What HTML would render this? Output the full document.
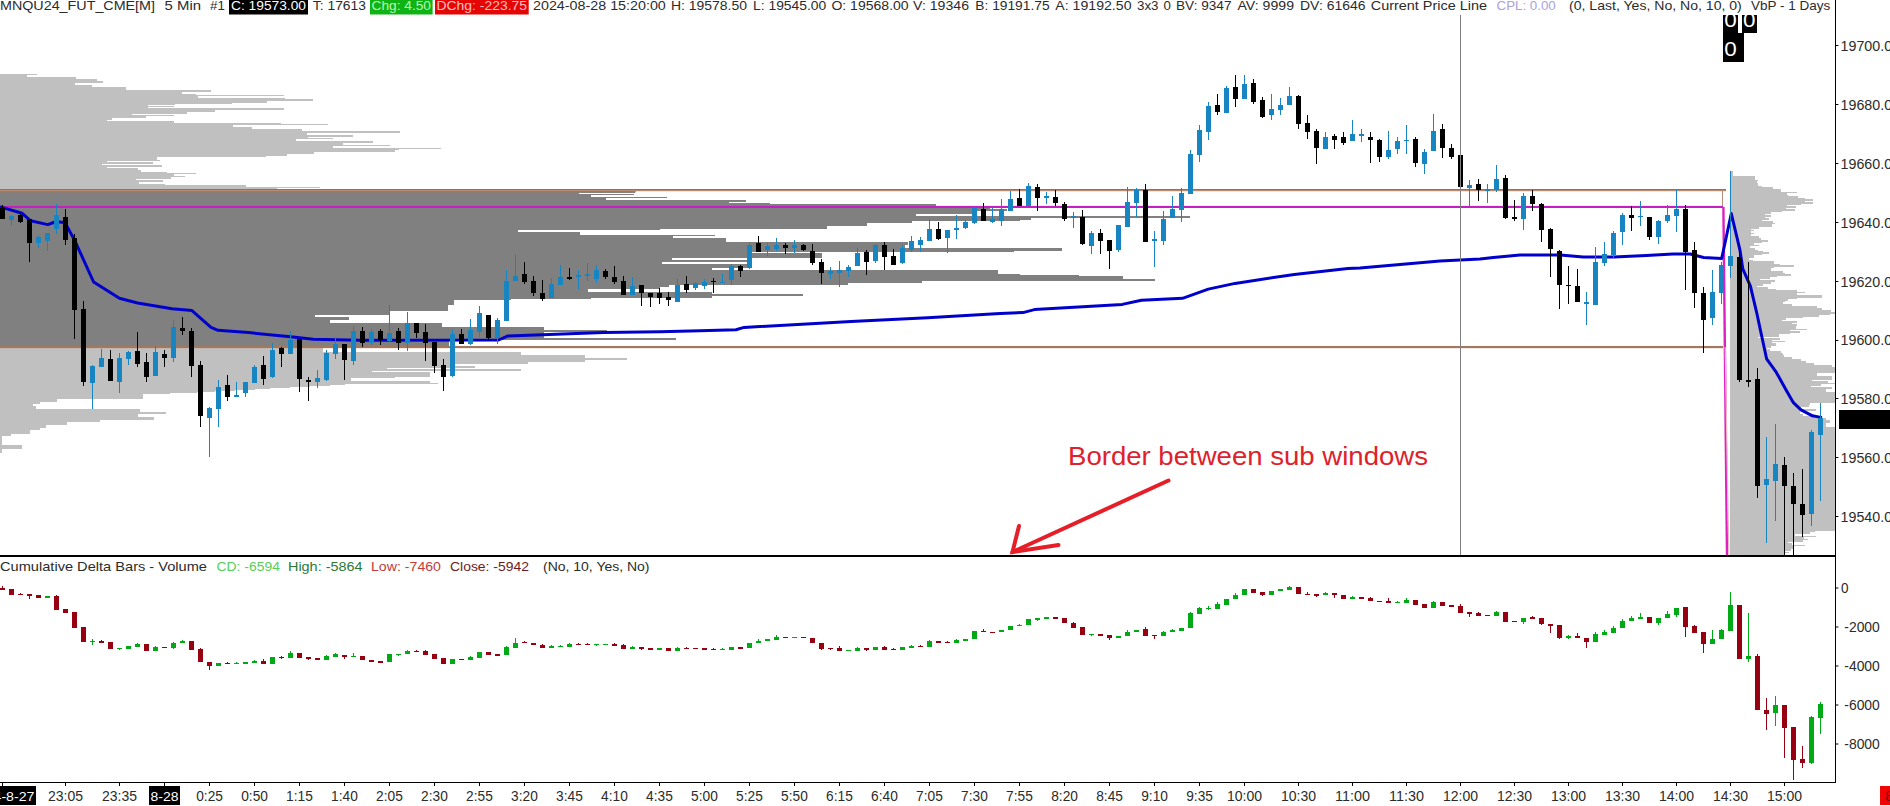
<!DOCTYPE html>
<html><head><meta charset="utf-8"><title>chart</title>
<style>html,body{margin:0;padding:0;background:#fff;overflow:hidden}svg{display:block}text{font-family:"Liberation Sans",sans-serif;white-space:pre}</style>
</head><body>
<svg width="1890" height="806" viewBox="0 0 1890 806">
<rect width="1890" height="806" fill="#fff"/>
<g shape-rendering="crispEdges">
<rect x="0.00" y="74.00" width="37.00" height="1.00" fill="#c0c0c0"/>
<rect x="0.00" y="75.00" width="27.00" height="2.00" fill="#c0c0c0"/>
<rect x="0.00" y="77.00" width="76.00" height="2.00" fill="#c0c0c0"/>
<rect x="0.00" y="79.00" width="97.00" height="2.00" fill="#c0c0c0"/>
<rect x="0.00" y="81.00" width="103.00" height="2.00" fill="#c0c0c0"/>
<rect x="0.00" y="83.00" width="75.00" height="2.00" fill="#c0c0c0"/>
<rect x="0.00" y="85.00" width="92.00" height="2.00" fill="#c0c0c0"/>
<rect x="0.00" y="87.00" width="126.00" height="3.00" fill="#c0c0c0"/>
<rect x="0.00" y="90.00" width="211.00" height="2.00" fill="#c0c0c0"/>
<rect x="0.00" y="92.00" width="182.00" height="2.00" fill="#c0c0c0"/>
<rect x="0.00" y="94.00" width="196.00" height="1.00" fill="#c0c0c0"/>
<rect x="0.00" y="95.00" width="284.00" height="1.00" fill="#c0c0c0"/>
<rect x="0.00" y="96.00" width="198.00" height="2.00" fill="#c0c0c0"/>
<rect x="0.00" y="98.00" width="285.00" height="1.00" fill="#c0c0c0"/>
<rect x="0.00" y="99.00" width="313.00" height="2.00" fill="#c0c0c0"/>
<rect x="0.00" y="101.00" width="267.00" height="2.00" fill="#c0c0c0"/>
<rect x="0.00" y="103.00" width="232.00" height="1.00" fill="#c0c0c0"/>
<rect x="0.00" y="104.00" width="175.00" height="1.00" fill="#c0c0c0"/>
<rect x="0.00" y="105.00" width="148.00" height="1.00" fill="#c0c0c0"/>
<rect x="0.00" y="106.00" width="174.00" height="1.00" fill="#c0c0c0"/>
<rect x="0.00" y="107.00" width="148.00" height="1.00" fill="#c0c0c0"/>
<rect x="0.00" y="108.00" width="284.00" height="2.00" fill="#c0c0c0"/>
<rect x="0.00" y="110.00" width="215.00" height="2.00" fill="#c0c0c0"/>
<rect x="0.00" y="112.00" width="187.00" height="2.00" fill="#c0c0c0"/>
<rect x="0.00" y="114.00" width="132.00" height="1.00" fill="#c0c0c0"/>
<rect x="0.00" y="115.00" width="174.00" height="1.00" fill="#c0c0c0"/>
<rect x="0.00" y="116.00" width="146.00" height="2.00" fill="#c0c0c0"/>
<rect x="0.00" y="118.00" width="112.00" height="2.00" fill="#c0c0c0"/>
<rect x="0.00" y="120.00" width="107.00" height="1.00" fill="#c0c0c0"/>
<rect x="0.00" y="121.00" width="174.00" height="2.00" fill="#c0c0c0"/>
<rect x="0.00" y="123.00" width="281.00" height="1.00" fill="#c0c0c0"/>
<rect x="0.00" y="124.00" width="328.00" height="1.00" fill="#c0c0c0"/>
<rect x="0.00" y="125.00" width="233.00" height="2.00" fill="#c0c0c0"/>
<rect x="0.00" y="127.00" width="252.00" height="2.00" fill="#c0c0c0"/>
<rect x="0.00" y="129.00" width="302.00" height="2.00" fill="#c0c0c0"/>
<rect x="0.00" y="131.00" width="400.00" height="2.00" fill="#c0c0c0"/>
<rect x="0.00" y="133.00" width="307.00" height="2.00" fill="#c0c0c0"/>
<rect x="0.00" y="135.00" width="353.00" height="2.00" fill="#c0c0c0"/>
<rect x="0.00" y="137.00" width="308.00" height="1.00" fill="#c0c0c0"/>
<rect x="0.00" y="138.00" width="333.00" height="1.00" fill="#c0c0c0"/>
<rect x="0.00" y="139.00" width="296.00" height="2.00" fill="#c0c0c0"/>
<rect x="0.00" y="141.00" width="373.00" height="2.00" fill="#c0c0c0"/>
<rect x="0.00" y="143.00" width="343.00" height="2.00" fill="#c0c0c0"/>
<rect x="0.00" y="145.00" width="390.00" height="1.00" fill="#c0c0c0"/>
<rect x="0.00" y="146.00" width="333.00" height="2.00" fill="#c0c0c0"/>
<rect x="0.00" y="148.00" width="441.00" height="1.00" fill="#c0c0c0"/>
<rect x="0.00" y="149.00" width="399.00" height="1.00" fill="#c0c0c0"/>
<rect x="0.00" y="150.00" width="395.00" height="2.00" fill="#c0c0c0"/>
<rect x="0.00" y="152.00" width="314.00" height="2.00" fill="#c0c0c0"/>
<rect x="0.00" y="154.00" width="287.00" height="2.00" fill="#c0c0c0"/>
<rect x="0.00" y="156.00" width="266.00" height="1.00" fill="#c0c0c0"/>
<rect x="0.00" y="157.00" width="157.00" height="3.00" fill="#c0c0c0"/>
<rect x="0.00" y="160.00" width="160.00" height="1.00" fill="#c0c0c0"/>
<rect x="0.00" y="161.00" width="107.00" height="1.00" fill="#c0c0c0"/>
<rect x="0.00" y="162.00" width="153.00" height="2.00" fill="#c0c0c0"/>
<rect x="0.00" y="164.00" width="102.00" height="1.00" fill="#c0c0c0"/>
<rect x="0.00" y="165.00" width="162.00" height="2.00" fill="#c0c0c0"/>
<rect x="0.00" y="167.00" width="107.00" height="1.00" fill="#c0c0c0"/>
<rect x="0.00" y="168.00" width="138.00" height="2.00" fill="#c0c0c0"/>
<rect x="0.00" y="170.00" width="141.00" height="2.00" fill="#c0c0c0"/>
<rect x="0.00" y="172.00" width="167.00" height="1.00" fill="#c0c0c0"/>
<rect x="0.00" y="173.00" width="196.00" height="1.00" fill="#c0c0c0"/>
<rect x="0.00" y="174.00" width="174.00" height="2.00" fill="#c0c0c0"/>
<rect x="0.00" y="176.00" width="185.00" height="1.00" fill="#c0c0c0"/>
<rect x="0.00" y="177.00" width="171.00" height="2.00" fill="#c0c0c0"/>
<rect x="0.00" y="179.00" width="136.00" height="1.00" fill="#c0c0c0"/>
<rect x="0.00" y="180.00" width="163.00" height="2.00" fill="#c0c0c0"/>
<rect x="0.00" y="182.00" width="139.00" height="2.00" fill="#c0c0c0"/>
<rect x="0.00" y="184.00" width="165.00" height="1.00" fill="#c0c0c0"/>
<rect x="0.00" y="185.00" width="246.00" height="2.00" fill="#c0c0c0"/>
<rect x="0.00" y="187.00" width="320.00" height="1.00" fill="#c0c0c0"/>
<rect x="0.00" y="188.00" width="277.00" height="1.00" fill="#c0c0c0"/>
<rect x="0.00" y="189.00" width="348.00" height="2.00" fill="#808080"/>
<rect x="0.00" y="191.00" width="635.00" height="2.00" fill="#808080"/>
<rect x="0.00" y="193.00" width="579.00" height="1.00" fill="#808080"/>
<rect x="0.00" y="194.00" width="634.00" height="1.00" fill="#808080"/>
<rect x="0.00" y="195.00" width="591.00" height="2.00" fill="#808080"/>
<rect x="0.00" y="197.00" width="667.00" height="1.00" fill="#808080"/>
<rect x="0.00" y="198.00" width="606.00" height="2.00" fill="#808080"/>
<rect x="0.00" y="200.00" width="746.00" height="2.00" fill="#808080"/>
<rect x="0.00" y="202.00" width="729.00" height="1.00" fill="#808080"/>
<rect x="0.00" y="203.00" width="770.00" height="1.00" fill="#808080"/>
<rect x="0.00" y="204.00" width="936.00" height="2.00" fill="#808080"/>
<rect x="0.00" y="206.00" width="990.00" height="3.00" fill="#808080"/>
<rect x="0.00" y="209.00" width="1007.00" height="2.00" fill="#808080"/>
<rect x="0.00" y="211.00" width="975.00" height="3.00" fill="#808080"/>
<rect x="0.00" y="214.00" width="916.00" height="2.00" fill="#808080"/>
<rect x="0.00" y="216.00" width="1190.00" height="2.00" fill="#808080"/>
<rect x="0.00" y="218.00" width="1031.00" height="2.00" fill="#808080"/>
<rect x="0.00" y="220.00" width="1020.00" height="1.00" fill="#808080"/>
<rect x="0.00" y="221.00" width="912.00" height="2.00" fill="#808080"/>
<rect x="0.00" y="223.00" width="867.00" height="3.00" fill="#808080"/>
<rect x="0.00" y="226.00" width="827.00" height="3.00" fill="#808080"/>
<rect x="0.00" y="229.00" width="660.00" height="1.00" fill="#808080"/>
<rect x="0.00" y="230.00" width="518.00" height="2.00" fill="#808080"/>
<rect x="0.00" y="232.00" width="580.00" height="3.00" fill="#808080"/>
<rect x="0.00" y="235.00" width="715.00" height="1.00" fill="#808080"/>
<rect x="0.00" y="236.00" width="673.00" height="2.00" fill="#808080"/>
<rect x="0.00" y="238.00" width="726.00" height="3.00" fill="#808080"/>
<rect x="0.00" y="241.00" width="726.00" height="1.00" fill="#808080"/>
<rect x="0.00" y="242.00" width="908.00" height="3.00" fill="#808080"/>
<rect x="0.00" y="245.00" width="905.00" height="3.00" fill="#808080"/>
<rect x="0.00" y="248.00" width="1062.00" height="3.00" fill="#808080"/>
<rect x="0.00" y="251.00" width="1014.00" height="1.00" fill="#808080"/>
<rect x="0.00" y="252.00" width="752.00" height="1.00" fill="#808080"/>
<rect x="0.00" y="253.00" width="822.00" height="5.00" fill="#808080"/>
<rect x="0.00" y="258.00" width="672.00" height="2.00" fill="#808080"/>
<rect x="0.00" y="260.00" width="748.00" height="2.00" fill="#808080"/>
<rect x="0.00" y="262.00" width="662.00" height="2.00" fill="#808080"/>
<rect x="0.00" y="264.00" width="748.00" height="4.00" fill="#808080"/>
<rect x="0.00" y="268.00" width="712.00" height="2.00" fill="#808080"/>
<rect x="0.00" y="270.00" width="998.00" height="4.00" fill="#808080"/>
<rect x="0.00" y="274.00" width="1020.00" height="1.00" fill="#808080"/>
<rect x="0.00" y="275.00" width="1079.00" height="1.00" fill="#808080"/>
<rect x="0.00" y="276.00" width="1123.00" height="3.00" fill="#808080"/>
<rect x="0.00" y="279.00" width="1155.00" height="2.00" fill="#808080"/>
<rect x="0.00" y="281.00" width="922.00" height="2.00" fill="#808080"/>
<rect x="0.00" y="283.00" width="848.00" height="2.00" fill="#808080"/>
<rect x="0.00" y="285.00" width="669.00" height="2.00" fill="#808080"/>
<rect x="0.00" y="287.00" width="660.00" height="2.00" fill="#808080"/>
<rect x="0.00" y="289.00" width="588.00" height="3.00" fill="#808080"/>
<rect x="0.00" y="292.00" width="712.00" height="2.00" fill="#808080"/>
<rect x="0.00" y="294.00" width="803.00" height="2.00" fill="#808080"/>
<rect x="0.00" y="296.00" width="712.00" height="2.00" fill="#808080"/>
<rect x="0.00" y="298.00" width="591.00" height="1.00" fill="#808080"/>
<rect x="0.00" y="299.00" width="511.00" height="1.00" fill="#808080"/>
<rect x="0.00" y="300.00" width="454.00" height="5.00" fill="#808080"/>
<rect x="0.00" y="305.00" width="448.00" height="6.00" fill="#808080"/>
<rect x="0.00" y="311.00" width="390.00" height="4.00" fill="#808080"/>
<rect x="0.00" y="315.00" width="315.00" height="2.00" fill="#808080"/>
<rect x="0.00" y="317.00" width="349.00" height="3.00" fill="#808080"/>
<rect x="0.00" y="320.00" width="330.00" height="3.00" fill="#808080"/>
<rect x="0.00" y="323.00" width="442.00" height="4.00" fill="#808080"/>
<rect x="0.00" y="327.00" width="544.00" height="3.00" fill="#808080"/>
<rect x="0.00" y="330.00" width="607.00" height="2.00" fill="#808080"/>
<rect x="0.00" y="332.00" width="544.00" height="6.00" fill="#808080"/>
<rect x="0.00" y="338.00" width="676.00" height="2.00" fill="#808080"/>
<rect x="0.00" y="340.00" width="449.00" height="6.00" fill="#808080"/>
<rect x="0.00" y="346.00" width="360.00" height="2.00" fill="#c0c0c0"/>
<rect x="0.00" y="348.00" width="323.00" height="4.00" fill="#c0c0c0"/>
<rect x="0.00" y="352.00" width="521.00" height="3.00" fill="#c0c0c0"/>
<rect x="0.00" y="355.00" width="585.00" height="3.00" fill="#c0c0c0"/>
<rect x="0.00" y="358.00" width="627.00" height="2.00" fill="#c0c0c0"/>
<rect x="0.00" y="360.00" width="585.00" height="2.00" fill="#c0c0c0"/>
<rect x="0.00" y="362.00" width="528.00" height="2.00" fill="#c0c0c0"/>
<rect x="0.00" y="364.00" width="455.00" height="2.00" fill="#c0c0c0"/>
<rect x="0.00" y="366.00" width="475.00" height="2.00" fill="#c0c0c0"/>
<rect x="0.00" y="368.00" width="387.00" height="1.00" fill="#c0c0c0"/>
<rect x="0.00" y="369.00" width="521.00" height="2.00" fill="#c0c0c0"/>
<rect x="0.00" y="371.00" width="372.00" height="1.00" fill="#c0c0c0"/>
<rect x="0.00" y="372.00" width="430.00" height="5.00" fill="#c0c0c0"/>
<rect x="0.00" y="377.00" width="395.00" height="1.00" fill="#c0c0c0"/>
<rect x="0.00" y="378.00" width="351.00" height="3.00" fill="#c0c0c0"/>
<rect x="0.00" y="381.00" width="430.00" height="2.00" fill="#c0c0c0"/>
<rect x="0.00" y="383.00" width="438.00" height="1.00" fill="#c0c0c0"/>
<rect x="0.00" y="384.00" width="345.00" height="1.00" fill="#c0c0c0"/>
<rect x="0.00" y="385.00" width="330.00" height="1.00" fill="#c0c0c0"/>
<rect x="0.00" y="386.00" width="310.00" height="1.00" fill="#c0c0c0"/>
<rect x="0.00" y="387.00" width="290.00" height="1.00" fill="#c0c0c0"/>
<rect x="0.00" y="388.00" width="270.00" height="1.00" fill="#c0c0c0"/>
<rect x="0.00" y="389.00" width="255.00" height="1.00" fill="#c0c0c0"/>
<rect x="0.00" y="390.00" width="235.00" height="1.00" fill="#c0c0c0"/>
<rect x="0.00" y="391.00" width="215.00" height="1.00" fill="#c0c0c0"/>
<rect x="0.00" y="392.00" width="197.00" height="1.00" fill="#c0c0c0"/>
<rect x="0.00" y="393.00" width="170.00" height="1.00" fill="#c0c0c0"/>
<rect x="0.00" y="394.00" width="143.00" height="5.00" fill="#c0c0c0"/>
<rect x="0.00" y="399.00" width="57.00" height="3.00" fill="#c0c0c0"/>
<rect x="0.00" y="402.00" width="40.00" height="2.00" fill="#c0c0c0"/>
<rect x="0.00" y="404.00" width="33.00" height="2.00" fill="#c0c0c0"/>
<rect x="0.00" y="406.00" width="36.00" height="3.00" fill="#c0c0c0"/>
<rect x="0.00" y="409.00" width="139.50" height="3.00" fill="#c0c0c0"/>
<rect x="0.00" y="412.00" width="166.00" height="2.00" fill="#c0c0c0"/>
<rect x="0.00" y="414.00" width="137.60" height="3.00" fill="#c0c0c0"/>
<rect x="0.00" y="417.00" width="153.80" height="3.00" fill="#c0c0c0"/>
<rect x="0.00" y="420.00" width="100.00" height="2.00" fill="#c0c0c0"/>
<rect x="0.00" y="422.00" width="67.00" height="3.00" fill="#c0c0c0"/>
<rect x="0.00" y="425.00" width="46.00" height="3.00" fill="#c0c0c0"/>
<rect x="0.00" y="428.00" width="40.00" height="2.00" fill="#c0c0c0"/>
<rect x="0.00" y="430.00" width="30.00" height="4.00" fill="#c0c0c0"/>
<rect x="0.00" y="434.00" width="11.00" height="2.00" fill="#c0c0c0"/>
<rect x="0.00" y="436.00" width="2.00" height="9.00" fill="#c0c0c0"/>
<rect x="0.00" y="445.00" width="22.00" height="4.00" fill="#c0c0c0"/>
<rect x="0.00" y="449.00" width="2.00" height="4.00" fill="#c0c0c0"/>
<rect x="1730.00" y="171.00" width="3.00" height="5.00" fill="#c0c0c0"/>
<rect x="1730.00" y="176.00" width="24.80" height="4.00" fill="#c0c0c0"/>
<rect x="1730.00" y="180.00" width="27.80" height="1.00" fill="#c0c0c0"/>
<rect x="1730.00" y="181.00" width="26.60" height="2.00" fill="#c0c0c0"/>
<rect x="1730.00" y="183.00" width="28.40" height="3.00" fill="#c0c0c0"/>
<rect x="1730.00" y="186.00" width="31.50" height="1.00" fill="#c0c0c0"/>
<rect x="1730.00" y="187.00" width="43.00" height="2.00" fill="#c0c0c0"/>
<rect x="1730.00" y="189.00" width="50.90" height="3.00" fill="#c0c0c0"/>
<rect x="1730.00" y="192.00" width="66.70" height="1.00" fill="#c0c0c0"/>
<rect x="1730.00" y="193.00" width="57.00" height="2.00" fill="#c0c0c0"/>
<rect x="1730.00" y="195.00" width="58.20" height="1.00" fill="#c0c0c0"/>
<rect x="1730.00" y="196.00" width="67.90" height="2.00" fill="#c0c0c0"/>
<rect x="1730.00" y="198.00" width="75.20" height="1.00" fill="#c0c0c0"/>
<rect x="1730.00" y="199.00" width="82.80" height="2.00" fill="#c0c0c0"/>
<rect x="1730.00" y="201.00" width="75.00" height="1.00" fill="#c0c0c0"/>
<rect x="1730.00" y="202.00" width="82.80" height="2.00" fill="#c0c0c0"/>
<rect x="1730.00" y="204.00" width="71.00" height="1.00" fill="#c0c0c0"/>
<rect x="1730.00" y="205.00" width="57.00" height="1.00" fill="#c0c0c0"/>
<rect x="1730.00" y="206.00" width="65.90" height="2.00" fill="#c0c0c0"/>
<rect x="1730.00" y="208.00" width="55.80" height="1.00" fill="#c0c0c0"/>
<rect x="1730.00" y="209.00" width="64.90" height="2.00" fill="#c0c0c0"/>
<rect x="1730.00" y="211.00" width="52.00" height="1.00" fill="#c0c0c0"/>
<rect x="1730.00" y="212.00" width="40.60" height="2.00" fill="#c0c0c0"/>
<rect x="1730.00" y="214.00" width="35.00" height="1.00" fill="#c0c0c0"/>
<rect x="1730.00" y="215.00" width="40.60" height="2.00" fill="#c0c0c0"/>
<rect x="1730.00" y="217.00" width="34.50" height="1.00" fill="#c0c0c0"/>
<rect x="1730.00" y="218.00" width="38.80" height="2.00" fill="#c0c0c0"/>
<rect x="1730.00" y="220.00" width="31.50" height="1.00" fill="#c0c0c0"/>
<rect x="1730.00" y="221.00" width="42.80" height="2.00" fill="#c0c0c0"/>
<rect x="1730.00" y="223.00" width="45.40" height="1.00" fill="#c0c0c0"/>
<rect x="1730.00" y="224.00" width="41.80" height="3.00" fill="#c0c0c0"/>
<rect x="1730.00" y="227.00" width="29.00" height="2.00" fill="#c0c0c0"/>
<rect x="1730.00" y="229.00" width="20.50" height="1.00" fill="#c0c0c0"/>
<rect x="1730.00" y="230.00" width="24.20" height="1.00" fill="#c0c0c0"/>
<rect x="1730.00" y="231.00" width="21.00" height="2.00" fill="#c0c0c0"/>
<rect x="1730.00" y="233.00" width="24.00" height="1.00" fill="#c0c0c0"/>
<rect x="1730.00" y="234.00" width="20.50" height="2.00" fill="#c0c0c0"/>
<rect x="1730.00" y="236.00" width="29.00" height="2.00" fill="#c0c0c0"/>
<rect x="1730.00" y="238.00" width="30.90" height="2.00" fill="#c0c0c0"/>
<rect x="1730.00" y="240.00" width="37.80" height="2.00" fill="#c0c0c0"/>
<rect x="1730.00" y="242.00" width="31.50" height="1.00" fill="#c0c0c0"/>
<rect x="1730.00" y="243.00" width="23.60" height="2.00" fill="#c0c0c0"/>
<rect x="1730.00" y="245.00" width="29.00" height="1.00" fill="#c0c0c0"/>
<rect x="1730.00" y="246.00" width="20.00" height="2.00" fill="#c0c0c0"/>
<rect x="1730.00" y="248.00" width="24.80" height="2.00" fill="#c0c0c0"/>
<rect x="1730.00" y="250.00" width="28.40" height="1.00" fill="#c0c0c0"/>
<rect x="1730.00" y="251.00" width="32.70" height="1.00" fill="#c0c0c0"/>
<rect x="1730.00" y="252.00" width="38.80" height="2.00" fill="#c0c0c0"/>
<rect x="1730.00" y="254.00" width="31.50" height="1.00" fill="#c0c0c0"/>
<rect x="1730.00" y="255.00" width="23.60" height="3.00" fill="#c0c0c0"/>
<rect x="1730.00" y="258.00" width="19.30" height="2.00" fill="#c0c0c0"/>
<rect x="1730.00" y="260.00" width="23.00" height="1.00" fill="#c0c0c0"/>
<rect x="1730.00" y="261.00" width="43.60" height="3.00" fill="#c0c0c0"/>
<rect x="1730.00" y="264.00" width="49.70" height="1.00" fill="#c0c0c0"/>
<rect x="1730.00" y="265.00" width="63.70" height="2.00" fill="#c0c0c0"/>
<rect x="1730.00" y="267.00" width="43.60" height="1.00" fill="#c0c0c0"/>
<rect x="1730.00" y="268.00" width="40.60" height="3.00" fill="#c0c0c0"/>
<rect x="1730.00" y="271.00" width="53.40" height="2.00" fill="#c0c0c0"/>
<rect x="1730.00" y="273.00" width="55.20" height="1.00" fill="#c0c0c0"/>
<rect x="1730.00" y="274.00" width="60.60" height="2.00" fill="#c0c0c0"/>
<rect x="1730.00" y="276.00" width="47.30" height="1.00" fill="#c0c0c0"/>
<rect x="1730.00" y="277.00" width="40.00" height="2.00" fill="#c0c0c0"/>
<rect x="1730.00" y="279.00" width="30.30" height="1.00" fill="#c0c0c0"/>
<rect x="1730.00" y="280.00" width="44.80" height="2.00" fill="#c0c0c0"/>
<rect x="1730.00" y="282.00" width="40.60" height="2.00" fill="#c0c0c0"/>
<rect x="1730.00" y="284.00" width="32.70" height="2.00" fill="#c0c0c0"/>
<rect x="1730.00" y="286.00" width="26.60" height="1.00" fill="#c0c0c0"/>
<rect x="1730.00" y="287.00" width="37.50" height="2.00" fill="#c0c0c0"/>
<rect x="1730.00" y="289.00" width="46.00" height="1.00" fill="#c0c0c0"/>
<rect x="1730.00" y="290.00" width="66.70" height="2.00" fill="#c0c0c0"/>
<rect x="1730.00" y="292.00" width="75.20" height="1.00" fill="#c0c0c0"/>
<rect x="1730.00" y="293.00" width="66.70" height="2.00" fill="#c0c0c0"/>
<rect x="1730.00" y="295.00" width="91.60" height="3.00" fill="#c0c0c0"/>
<rect x="1730.00" y="298.00" width="66.70" height="1.00" fill="#c0c0c0"/>
<rect x="1730.00" y="299.00" width="58.20" height="2.00" fill="#c0c0c0"/>
<rect x="1730.00" y="301.00" width="55.20" height="1.00" fill="#c0c0c0"/>
<rect x="1730.00" y="302.00" width="52.70" height="2.00" fill="#c0c0c0"/>
<rect x="1730.00" y="304.00" width="61.90" height="2.00" fill="#c0c0c0"/>
<rect x="1730.00" y="306.00" width="86.80" height="2.00" fill="#c0c0c0"/>
<rect x="1730.00" y="308.00" width="92.30" height="2.00" fill="#c0c0c0"/>
<rect x="1730.00" y="310.00" width="100.80" height="2.00" fill="#c0c0c0"/>
<rect x="1730.00" y="312.00" width="104.60" height="2.00" fill="#c0c0c0"/>
<rect x="1730.00" y="314.00" width="99.50" height="1.00" fill="#c0c0c0"/>
<rect x="1730.00" y="315.00" width="88.60" height="2.00" fill="#c0c0c0"/>
<rect x="1730.00" y="317.00" width="72.80" height="1.00" fill="#c0c0c0"/>
<rect x="1730.00" y="318.00" width="55.80" height="2.00" fill="#c0c0c0"/>
<rect x="1730.00" y="320.00" width="52.00" height="1.00" fill="#c0c0c0"/>
<rect x="1730.00" y="321.00" width="66.70" height="2.00" fill="#c0c0c0"/>
<rect x="1730.00" y="323.00" width="61.90" height="1.00" fill="#c0c0c0"/>
<rect x="1730.00" y="324.00" width="66.70" height="2.00" fill="#c0c0c0"/>
<rect x="1730.00" y="326.00" width="65.50" height="2.00" fill="#c0c0c0"/>
<rect x="1730.00" y="328.00" width="66.00" height="1.00" fill="#c0c0c0"/>
<rect x="1730.00" y="329.00" width="76.70" height="1.00" fill="#c0c0c0"/>
<rect x="1730.00" y="330.00" width="60.00" height="1.00" fill="#c0c0c0"/>
<rect x="1730.00" y="331.00" width="69.80" height="2.00" fill="#c0c0c0"/>
<rect x="1730.00" y="333.00" width="60.00" height="1.00" fill="#c0c0c0"/>
<rect x="1730.00" y="334.00" width="48.50" height="3.00" fill="#c0c0c0"/>
<rect x="1730.00" y="337.00" width="27.80" height="1.00" fill="#c0c0c0"/>
<rect x="1730.00" y="338.00" width="49.70" height="2.00" fill="#c0c0c0"/>
<rect x="1730.00" y="340.00" width="41.80" height="1.00" fill="#c0c0c0"/>
<rect x="1730.00" y="341.00" width="55.00" height="1.00" fill="#c0c0c0"/>
<rect x="1730.00" y="342.00" width="41.80" height="1.00" fill="#c0c0c0"/>
<rect x="1730.00" y="343.00" width="45.50" height="3.00" fill="#c0c0c0"/>
<rect x="1730.00" y="346.00" width="41.20" height="2.00" fill="#c0c0c0"/>
<rect x="1730.00" y="348.00" width="37.00" height="1.00" fill="#c0c0c0"/>
<rect x="1730.00" y="349.00" width="40.00" height="2.00" fill="#c0c0c0"/>
<rect x="1730.00" y="351.00" width="51.00" height="2.00" fill="#c0c0c0"/>
<rect x="1730.00" y="353.00" width="52.70" height="2.00" fill="#c0c0c0"/>
<rect x="1730.00" y="355.00" width="54.00" height="2.00" fill="#c0c0c0"/>
<rect x="1730.00" y="357.00" width="61.50" height="2.00" fill="#c0c0c0"/>
<rect x="1730.00" y="359.00" width="71.00" height="2.00" fill="#c0c0c0"/>
<rect x="1730.00" y="361.00" width="75.80" height="2.00" fill="#c0c0c0"/>
<rect x="1730.00" y="363.00" width="84.40" height="2.00" fill="#c0c0c0"/>
<rect x="1730.00" y="365.00" width="102.00" height="2.00" fill="#c0c0c0"/>
<rect x="1730.00" y="367.00" width="105.00" height="6.00" fill="#c0c0c0"/>
<rect x="1730.00" y="373.00" width="86.80" height="3.00" fill="#c0c0c0"/>
<rect x="1730.00" y="376.00" width="102.00" height="4.00" fill="#c0c0c0"/>
<rect x="1730.00" y="380.00" width="82.00" height="1.00" fill="#c0c0c0"/>
<rect x="1730.00" y="381.00" width="98.00" height="2.00" fill="#c0c0c0"/>
<rect x="1730.00" y="383.00" width="105.00" height="1.00" fill="#c0c0c0"/>
<rect x="1730.00" y="384.00" width="91.00" height="2.00" fill="#c0c0c0"/>
<rect x="1730.00" y="386.00" width="80.70" height="1.00" fill="#c0c0c0"/>
<rect x="1730.00" y="387.00" width="102.00" height="2.00" fill="#c0c0c0"/>
<rect x="1730.00" y="389.00" width="96.00" height="3.00" fill="#c0c0c0"/>
<rect x="1730.00" y="392.00" width="105.00" height="11.00" fill="#c0c0c0"/>
<rect x="1730.00" y="403.00" width="80.00" height="2.00" fill="#c0c0c0"/>
<rect x="1730.00" y="405.00" width="79.00" height="2.00" fill="#c0c0c0"/>
<rect x="1730.00" y="407.00" width="71.00" height="2.00" fill="#c0c0c0"/>
<rect x="1730.00" y="409.00" width="85.80" height="2.00" fill="#c0c0c0"/>
<rect x="1730.00" y="411.00" width="70.00" height="3.00" fill="#c0c0c0"/>
<rect x="1730.00" y="414.00" width="73.00" height="2.00" fill="#c0c0c0"/>
<rect x="1730.00" y="416.00" width="92.00" height="2.00" fill="#c0c0c0"/>
<rect x="1730.00" y="418.00" width="95.50" height="2.00" fill="#c0c0c0"/>
<rect x="1730.00" y="420.00" width="100.00" height="3.00" fill="#c0c0c0"/>
<rect x="1730.00" y="423.00" width="96.00" height="4.00" fill="#c0c0c0"/>
<rect x="1730.00" y="427.00" width="105.00" height="104.00" fill="#c0c0c0"/>
<rect x="1730.00" y="531.00" width="85.00" height="1.00" fill="#c0c0c0"/>
<rect x="1730.00" y="532.00" width="80.00" height="2.00" fill="#c0c0c0"/>
<rect x="1730.00" y="534.00" width="65.00" height="2.00" fill="#c0c0c0"/>
<rect x="1730.00" y="536.00" width="85.90" height="1.00" fill="#c0c0c0"/>
<rect x="1730.00" y="537.00" width="73.80" height="2.00" fill="#c0c0c0"/>
<rect x="1730.00" y="539.00" width="77.80" height="1.00" fill="#c0c0c0"/>
<rect x="1730.00" y="540.00" width="72.90" height="2.00" fill="#c0c0c0"/>
<rect x="1730.00" y="542.00" width="58.00" height="1.00" fill="#c0c0c0"/>
<rect x="1730.00" y="543.00" width="62.00" height="2.00" fill="#c0c0c0"/>
<rect x="1730.00" y="545.00" width="75.00" height="1.00" fill="#c0c0c0"/>
<rect x="1730.00" y="546.00" width="62.60" height="3.00" fill="#c0c0c0"/>
<rect x="1730.00" y="549.00" width="60.80" height="2.00" fill="#c0c0c0"/>
<rect x="1730.00" y="551.00" width="55.00" height="1.00" fill="#c0c0c0"/>
<rect x="1730.00" y="552.00" width="59.00" height="1.00" fill="#c0c0c0"/>
<rect x="1730.00" y="553.00" width="55.20" height="2.00" fill="#c0c0c0"/>
</g>
<rect x="0.00" y="189.00" width="1726.00" height="1.00" fill="#84746c"/>
<rect x="0.00" y="190.00" width="1726.00" height="1.00" fill="#b88c72"/>
<rect x="0.00" y="191.00" width="636.00" height="1.40" fill="#a87860" opacity="0.75"/>
<rect x="636.00" y="191.00" width="1090.00" height="1.00" fill="#c89878" opacity="0.25"/>
<rect x="0.00" y="346.00" width="1723.00" height="2.00" fill="#a4775f"/>
<rect x="0.00" y="348.00" width="1723.00" height="1.00" fill="#c89878" opacity="0.2"/>
<rect x="1722.00" y="190.00" width="1.00" height="17.00" fill="#b89078"/>
<rect x="0.00" y="205.90" width="1723.00" height="2.10" fill="#c41fc0"/>
<path d="M1723.4 207 L1727 555" stroke="#dc20c0" stroke-width="2.4" fill="none"/>
<path d="M1725.2 347 L1728.8 555" stroke="#f4b8c8" stroke-width="1.2" fill="none"/>
<polyline points="0.0,207.0 2.0,207.4 22.0,213.2 30.6,220.8 47.8,224.6 56.4,221.5 65.0,222.7 74.5,239.9 93.6,282.0 119.4,298.2 137.6,303.0 172.0,308.7 192.0,310.6 211.0,327.4 218.0,330.3 248.4,332.6 290.5,336.8 313.4,339.3 360.0,340.2 498.6,340.0 508.0,335.9 603.7,332.5 660.0,331.8 700.0,330.8 736.0,329.7 744.0,327.4 851.0,321.6 927.5,317.8 1000.0,313.5 1023.0,312.6 1034.4,309.6 1122.3,304.4 1141.4,300.2 1182.5,298.3 1208.3,289.1 1235.0,283.4 1294.3,274.4 1347.8,268.5 1360.0,268.1 1400.0,264.5 1440.0,261.0 1480.0,259.0 1493.4,257.5 1520.0,255.0 1560.3,255.0 1583.2,257.0 1613.8,257.0 1646.3,255.5 1673.0,254.0 1690.2,254.0 1703.6,257.5 1721.7,258.4 1731.3,213.5 1739.9,249.8 1742.8,268.9 1750.4,286.1 1757.0,314.0 1760.0,328.2 1766.6,358.8 1776.2,372.2 1785.8,389.4 1793.4,402.7 1801.0,409.9 1812.5,415.8 1822.0,417.6" fill="none" stroke="#0000cc" stroke-width="3" stroke-linejoin="round"/>
<g shape-rendering="crispEdges">
<rect x="2.00" y="205.00" width="1.00" height="13.80" fill="#000"/>
<rect x="0.00" y="207.90" width="5.00" height="10.90" fill="#000"/>
<rect x="11.00" y="215.30" width="1.00" height="11.00" fill="#1785c1"/>
<rect x="9.00" y="216.30" width="5.00" height="4.00" fill="#1785c1"/>
<rect x="20.00" y="214.00" width="1.00" height="8.80" fill="#000"/>
<rect x="18.00" y="214.90" width="5.00" height="6.90" fill="#000"/>
<rect x="29.00" y="219.00" width="1.00" height="43.00" fill="#000"/>
<rect x="27.00" y="219.30" width="5.00" height="23.50" fill="#000"/>
<rect x="38.00" y="235.00" width="1.00" height="12.60" fill="#1785c1"/>
<rect x="36.00" y="236.70" width="5.00" height="5.90" fill="#1785c1"/>
<rect x="47.00" y="232.50" width="1.00" height="18.50" fill="#1785c1"/>
<rect x="45.00" y="233.20" width="5.00" height="7.70" fill="#1785c1"/>
<rect x="56.00" y="204.00" width="1.00" height="29.70" fill="#1785c1"/>
<rect x="54.00" y="214.90" width="5.00" height="14.30" fill="#1785c1"/>
<rect x="65.00" y="209.00" width="1.00" height="36.00" fill="#000"/>
<rect x="63.00" y="217.00" width="5.00" height="22.90" fill="#000"/>
<rect x="74.00" y="234.20" width="1.00" height="104.30" fill="#000"/>
<rect x="72.00" y="238.00" width="5.00" height="71.70" fill="#000"/>
<rect x="83.00" y="301.00" width="1.00" height="84.50" fill="#000"/>
<rect x="81.00" y="309.00" width="5.00" height="72.50" fill="#000"/>
<rect x="92.00" y="365.00" width="1.00" height="43.90" fill="#1785c1"/>
<rect x="90.00" y="365.90" width="5.00" height="16.60" fill="#1785c1"/>
<rect x="101.00" y="348.70" width="1.00" height="18.10" fill="#1785c1"/>
<rect x="99.00" y="358.20" width="5.00" height="8.60" fill="#1785c1"/>
<rect x="110.00" y="350.20" width="1.00" height="30.60" fill="#000"/>
<rect x="108.00" y="359.20" width="5.00" height="21.60" fill="#000"/>
<rect x="119.00" y="353.40" width="1.00" height="39.20" fill="#1785c1"/>
<rect x="117.00" y="358.20" width="5.00" height="23.30" fill="#1785c1"/>
<rect x="128.00" y="350.50" width="1.00" height="14.40" fill="#1785c1"/>
<rect x="126.00" y="352.10" width="5.00" height="6.70" fill="#1785c1"/>
<rect x="137.00" y="331.70" width="1.00" height="35.10" fill="#000"/>
<rect x="135.00" y="351.10" width="5.00" height="12.90" fill="#000"/>
<rect x="146.00" y="353.40" width="1.00" height="28.10" fill="#000"/>
<rect x="144.00" y="362.40" width="5.00" height="14.40" fill="#000"/>
<rect x="155.00" y="345.80" width="1.00" height="30.00" fill="#1785c1"/>
<rect x="153.00" y="352.10" width="5.00" height="23.70" fill="#1785c1"/>
<rect x="164.00" y="350.20" width="1.00" height="16.60" fill="#000"/>
<rect x="162.00" y="354.40" width="5.00" height="3.20" fill="#000"/>
<rect x="173.00" y="320.00" width="1.00" height="41.70" fill="#1785c1"/>
<rect x="171.00" y="327.10" width="5.00" height="30.50" fill="#1785c1"/>
<rect x="182.00" y="317.30" width="1.00" height="18.10" fill="#000"/>
<rect x="180.00" y="327.90" width="5.00" height="3.10" fill="#000"/>
<rect x="191.00" y="328.20" width="1.00" height="49.10" fill="#000"/>
<rect x="189.00" y="331.10" width="5.00" height="34.80" fill="#000"/>
<rect x="200.00" y="361.10" width="1.00" height="66.30" fill="#000"/>
<rect x="198.00" y="365.30" width="5.00" height="50.20" fill="#000"/>
<rect x="209.00" y="407.00" width="1.00" height="49.60" fill="#1785c1"/>
<rect x="207.00" y="408.30" width="5.00" height="9.20" fill="#1785c1"/>
<rect x="218.00" y="380.20" width="1.00" height="47.20" fill="#1785c1"/>
<rect x="216.00" y="387.30" width="5.00" height="22.10" fill="#1785c1"/>
<rect x="227.00" y="375.40" width="1.00" height="25.20" fill="#000"/>
<rect x="225.00" y="385.40" width="5.00" height="12.00" fill="#000"/>
<rect x="236.00" y="382.10" width="1.00" height="15.30" fill="#1785c1"/>
<rect x="234.00" y="394.50" width="5.00" height="2.90" fill="#1785c1"/>
<rect x="245.00" y="382.10" width="1.00" height="15.30" fill="#1785c1"/>
<rect x="243.00" y="382.10" width="5.00" height="10.50" fill="#1785c1"/>
<rect x="254.00" y="364.90" width="1.00" height="17.60" fill="#1785c1"/>
<rect x="252.00" y="366.80" width="5.00" height="15.70" fill="#1785c1"/>
<rect x="263.00" y="356.30" width="1.00" height="28.70" fill="#000"/>
<rect x="261.00" y="365.30" width="5.00" height="13.40" fill="#000"/>
<rect x="272.00" y="343.30" width="1.00" height="34.40" fill="#1785c1"/>
<rect x="270.00" y="350.00" width="5.00" height="26.80" fill="#1785c1"/>
<rect x="281.00" y="346.80" width="1.00" height="20.00" fill="#000"/>
<rect x="279.00" y="348.10" width="5.00" height="5.70" fill="#000"/>
<rect x="290.00" y="331.10" width="1.00" height="22.70" fill="#1785c1"/>
<rect x="288.00" y="340.10" width="5.00" height="13.70" fill="#1785c1"/>
<rect x="299.00" y="338.70" width="1.00" height="53.00" fill="#000"/>
<rect x="297.00" y="338.70" width="5.00" height="40.00" fill="#000"/>
<rect x="308.00" y="376.90" width="1.00" height="23.70" fill="#000"/>
<rect x="306.00" y="379.80" width="5.00" height="1.90" fill="#000"/>
<rect x="317.00" y="370.10" width="1.00" height="17.70" fill="#1785c1"/>
<rect x="315.00" y="378.30" width="5.00" height="3.40" fill="#1785c1"/>
<rect x="326.00" y="350.20" width="1.00" height="30.60" fill="#1785c1"/>
<rect x="324.00" y="352.90" width="5.00" height="26.90" fill="#1785c1"/>
<rect x="335.00" y="336.60" width="1.00" height="22.00" fill="#1785c1"/>
<rect x="333.00" y="343.90" width="5.00" height="9.90" fill="#1785c1"/>
<rect x="344.00" y="344.40" width="1.00" height="35.40" fill="#000"/>
<rect x="342.00" y="344.40" width="5.00" height="15.30" fill="#000"/>
<rect x="353.00" y="326.10" width="1.00" height="38.80" fill="#1785c1"/>
<rect x="351.00" y="330.60" width="5.00" height="30.20" fill="#1785c1"/>
<rect x="362.00" y="327.30" width="1.00" height="19.50" fill="#000"/>
<rect x="360.00" y="330.70" width="5.00" height="11.90" fill="#000"/>
<rect x="371.00" y="329.20" width="1.00" height="16.20" fill="#1785c1"/>
<rect x="369.00" y="332.00" width="5.00" height="10.60" fill="#1785c1"/>
<rect x="380.00" y="329.20" width="1.00" height="15.60" fill="#000"/>
<rect x="378.00" y="331.10" width="5.00" height="9.00" fill="#000"/>
<rect x="389.00" y="304.60" width="1.00" height="37.00" fill="#1785c1"/>
<rect x="387.00" y="333.00" width="5.00" height="7.60" fill="#1785c1"/>
<rect x="398.00" y="328.20" width="1.00" height="21.60" fill="#000"/>
<rect x="396.00" y="331.10" width="5.00" height="11.50" fill="#000"/>
<rect x="407.00" y="312.00" width="1.00" height="39.20" fill="#1785c1"/>
<rect x="405.00" y="323.40" width="5.00" height="19.20" fill="#1785c1"/>
<rect x="416.00" y="323.40" width="1.00" height="14.40" fill="#000"/>
<rect x="414.00" y="323.40" width="5.00" height="9.60" fill="#000"/>
<rect x="425.00" y="324.40" width="1.00" height="36.30" fill="#000"/>
<rect x="423.00" y="332.40" width="5.00" height="10.20" fill="#000"/>
<rect x="434.00" y="342.00" width="1.00" height="30.60" fill="#000"/>
<rect x="432.00" y="342.00" width="5.00" height="23.90" fill="#000"/>
<rect x="443.00" y="359.20" width="1.00" height="31.50" fill="#000"/>
<rect x="441.00" y="365.10" width="5.00" height="11.50" fill="#000"/>
<rect x="452.00" y="329.20" width="1.00" height="47.80" fill="#1785c1"/>
<rect x="450.00" y="334.30" width="5.00" height="41.70" fill="#1785c1"/>
<rect x="461.00" y="329.20" width="1.00" height="14.30" fill="#000"/>
<rect x="459.00" y="334.30" width="5.00" height="9.20" fill="#000"/>
<rect x="470.00" y="319.00" width="1.00" height="25.80" fill="#1785c1"/>
<rect x="468.00" y="330.10" width="5.00" height="13.40" fill="#1785c1"/>
<rect x="479.00" y="306.20" width="1.00" height="30.60" fill="#1785c1"/>
<rect x="477.00" y="313.30" width="5.00" height="19.10" fill="#1785c1"/>
<rect x="488.00" y="315.20" width="1.00" height="24.80" fill="#000"/>
<rect x="486.00" y="315.20" width="5.00" height="22.60" fill="#000"/>
<rect x="497.00" y="318.30" width="1.00" height="25.60" fill="#1785c1"/>
<rect x="495.00" y="320.20" width="5.00" height="17.60" fill="#1785c1"/>
<rect x="506.00" y="270.00" width="1.00" height="50.70" fill="#1785c1"/>
<rect x="504.00" y="281.10" width="5.00" height="39.60" fill="#1785c1"/>
<rect x="515.00" y="254.20" width="1.00" height="26.90" fill="#1785c1"/>
<rect x="513.00" y="276.30" width="5.00" height="4.80" fill="#1785c1"/>
<rect x="524.00" y="262.40" width="1.00" height="21.60" fill="#000"/>
<rect x="522.00" y="274.40" width="5.00" height="7.50" fill="#000"/>
<rect x="533.00" y="276.30" width="1.00" height="19.50" fill="#000"/>
<rect x="531.00" y="281.10" width="5.00" height="11.90" fill="#000"/>
<rect x="542.00" y="280.20" width="1.00" height="21.00" fill="#000"/>
<rect x="540.00" y="293.40" width="5.00" height="5.90" fill="#000"/>
<rect x="551.00" y="278.30" width="1.00" height="19.80" fill="#1785c1"/>
<rect x="549.00" y="284.00" width="5.00" height="14.10" fill="#1785c1"/>
<rect x="560.00" y="265.30" width="1.00" height="19.50" fill="#1785c1"/>
<rect x="558.00" y="277.10" width="5.00" height="7.70" fill="#1785c1"/>
<rect x="569.00" y="268.10" width="1.00" height="11.90" fill="#000"/>
<rect x="567.00" y="277.10" width="5.00" height="1.90" fill="#000"/>
<rect x="578.00" y="270.00" width="1.00" height="19.10" fill="#1785c1"/>
<rect x="576.00" y="274.80" width="5.00" height="1.90" fill="#1785c1"/>
<rect x="587.00" y="263.00" width="1.00" height="18.10" fill="#1785c1"/>
<rect x="585.00" y="273.90" width="5.00" height="1.90" fill="#1785c1"/>
<rect x="596.00" y="265.30" width="1.00" height="17.20" fill="#1785c1"/>
<rect x="594.00" y="270.00" width="5.00" height="9.00" fill="#1785c1"/>
<rect x="605.00" y="269.00" width="1.00" height="10.00" fill="#000"/>
<rect x="603.00" y="271.00" width="5.00" height="5.70" fill="#000"/>
<rect x="614.00" y="266.20" width="1.00" height="17.80" fill="#000"/>
<rect x="612.00" y="277.10" width="5.00" height="5.00" fill="#000"/>
<rect x="623.00" y="276.30" width="1.00" height="18.60" fill="#000"/>
<rect x="621.00" y="281.10" width="5.00" height="13.80" fill="#000"/>
<rect x="632.00" y="277.30" width="1.00" height="18.00" fill="#1785c1"/>
<rect x="630.00" y="286.30" width="5.00" height="9.00" fill="#1785c1"/>
<rect x="641.00" y="284.90" width="1.00" height="20.90" fill="#000"/>
<rect x="639.00" y="284.90" width="5.00" height="7.70" fill="#000"/>
<rect x="650.00" y="292.60" width="1.00" height="14.70" fill="#000"/>
<rect x="648.00" y="292.60" width="5.00" height="4.20" fill="#000"/>
<rect x="659.00" y="288.20" width="1.00" height="15.30" fill="#000"/>
<rect x="657.00" y="293.40" width="5.00" height="4.30" fill="#000"/>
<rect x="668.00" y="292.40" width="1.00" height="13.40" fill="#000"/>
<rect x="666.00" y="297.20" width="5.00" height="2.50" fill="#000"/>
<rect x="677.00" y="278.60" width="1.00" height="23.00" fill="#1785c1"/>
<rect x="675.00" y="284.80" width="5.00" height="16.80" fill="#1785c1"/>
<rect x="686.00" y="276.30" width="1.00" height="16.70" fill="#000"/>
<rect x="684.00" y="284.00" width="5.00" height="5.70" fill="#000"/>
<rect x="695.00" y="281.50" width="1.00" height="8.20" fill="#1785c1"/>
<rect x="693.00" y="283.40" width="5.00" height="4.20" fill="#1785c1"/>
<rect x="704.00" y="279.00" width="1.00" height="9.80" fill="#1785c1"/>
<rect x="702.00" y="281.50" width="5.00" height="4.20" fill="#1785c1"/>
<rect x="713.00" y="278.00" width="1.00" height="15.00" fill="#000"/>
<rect x="711.00" y="281.00" width="5.00" height="1.20" fill="#000"/>
<rect x="722.00" y="274.40" width="1.00" height="8.40" fill="#1785c1"/>
<rect x="720.00" y="281.50" width="5.00" height="1.30" fill="#1785c1"/>
<rect x="731.00" y="264.30" width="1.00" height="20.70" fill="#1785c1"/>
<rect x="729.00" y="266.20" width="5.00" height="13.80" fill="#1785c1"/>
<rect x="740.00" y="264.90" width="1.00" height="12.20" fill="#000"/>
<rect x="738.00" y="266.20" width="5.00" height="4.80" fill="#000"/>
<rect x="749.00" y="242.00" width="1.00" height="27.00" fill="#1785c1"/>
<rect x="747.00" y="244.60" width="5.00" height="23.10" fill="#1785c1"/>
<rect x="758.00" y="236.00" width="1.00" height="15.50" fill="#000"/>
<rect x="756.00" y="243.30" width="5.00" height="8.20" fill="#000"/>
<rect x="767.00" y="242.90" width="1.00" height="12.80" fill="#1785c1"/>
<rect x="765.00" y="246.10" width="5.00" height="3.50" fill="#1785c1"/>
<rect x="776.00" y="238.10" width="1.00" height="12.90" fill="#1785c1"/>
<rect x="774.00" y="244.80" width="5.00" height="4.60" fill="#1785c1"/>
<rect x="785.00" y="242.90" width="1.00" height="10.90" fill="#000"/>
<rect x="783.00" y="244.80" width="5.00" height="3.20" fill="#000"/>
<rect x="794.00" y="240.40" width="1.00" height="13.00" fill="#1785c1"/>
<rect x="792.00" y="244.80" width="5.00" height="2.70" fill="#1785c1"/>
<rect x="803.00" y="244.00" width="1.00" height="7.00" fill="#000"/>
<rect x="801.00" y="244.80" width="5.00" height="5.60" fill="#000"/>
<rect x="812.00" y="244.20" width="1.00" height="20.70" fill="#000"/>
<rect x="810.00" y="250.90" width="5.00" height="12.10" fill="#000"/>
<rect x="821.00" y="259.10" width="1.00" height="24.70" fill="#000"/>
<rect x="819.00" y="262.00" width="5.00" height="10.90" fill="#000"/>
<rect x="830.00" y="267.20" width="1.00" height="11.40" fill="#1785c1"/>
<rect x="828.00" y="271.00" width="5.00" height="2.90" fill="#1785c1"/>
<rect x="839.00" y="261.00" width="1.00" height="25.90" fill="#1785c1"/>
<rect x="837.00" y="270.40" width="5.00" height="2.10" fill="#1785c1"/>
<rect x="848.00" y="264.90" width="1.00" height="11.80" fill="#1785c1"/>
<rect x="846.00" y="266.80" width="5.00" height="4.60" fill="#1785c1"/>
<rect x="857.00" y="248.40" width="1.00" height="17.20" fill="#1785c1"/>
<rect x="855.00" y="252.80" width="5.00" height="12.80" fill="#1785c1"/>
<rect x="866.00" y="250.00" width="1.00" height="24.80" fill="#000"/>
<rect x="864.00" y="251.90" width="5.00" height="10.10" fill="#000"/>
<rect x="875.00" y="244.00" width="1.00" height="19.00" fill="#1785c1"/>
<rect x="873.00" y="244.80" width="5.00" height="16.20" fill="#1785c1"/>
<rect x="884.00" y="242.00" width="1.00" height="28.00" fill="#000"/>
<rect x="882.00" y="244.80" width="5.00" height="11.90" fill="#000"/>
<rect x="893.00" y="249.40" width="1.00" height="15.50" fill="#000"/>
<rect x="891.00" y="256.10" width="5.00" height="8.80" fill="#000"/>
<rect x="902.00" y="244.60" width="1.00" height="19.40" fill="#1785c1"/>
<rect x="900.00" y="247.70" width="5.00" height="15.30" fill="#1785c1"/>
<rect x="911.00" y="236.20" width="1.00" height="15.70" fill="#1785c1"/>
<rect x="909.00" y="241.40" width="5.00" height="8.60" fill="#1785c1"/>
<rect x="920.00" y="237.00" width="1.00" height="14.90" fill="#1785c1"/>
<rect x="918.00" y="240.00" width="5.00" height="5.20" fill="#1785c1"/>
<rect x="929.00" y="219.40" width="1.00" height="21.40" fill="#1785c1"/>
<rect x="927.00" y="229.30" width="5.00" height="11.50" fill="#1785c1"/>
<rect x="938.00" y="222.30" width="1.00" height="18.10" fill="#000"/>
<rect x="936.00" y="229.30" width="5.00" height="9.80" fill="#000"/>
<rect x="947.00" y="230.30" width="1.00" height="23.10" fill="#1785c1"/>
<rect x="945.00" y="230.30" width="5.00" height="7.60" fill="#1785c1"/>
<rect x="956.00" y="215.00" width="1.00" height="23.90" fill="#1785c1"/>
<rect x="954.00" y="228.40" width="5.00" height="1.90" fill="#1785c1"/>
<rect x="965.00" y="219.80" width="1.00" height="9.20" fill="#1785c1"/>
<rect x="963.00" y="222.30" width="5.00" height="5.70" fill="#1785c1"/>
<rect x="974.00" y="207.00" width="1.00" height="16.80" fill="#1785c1"/>
<rect x="972.00" y="208.30" width="5.00" height="14.30" fill="#1785c1"/>
<rect x="983.00" y="203.20" width="1.00" height="17.50" fill="#000"/>
<rect x="981.00" y="209.30" width="5.00" height="11.40" fill="#000"/>
<rect x="992.00" y="207.90" width="1.00" height="14.90" fill="#1785c1"/>
<rect x="990.00" y="219.40" width="5.00" height="2.90" fill="#1785c1"/>
<rect x="1001.00" y="199.00" width="1.00" height="26.60" fill="#1785c1"/>
<rect x="999.00" y="208.70" width="5.00" height="11.80" fill="#1785c1"/>
<rect x="1010.00" y="191.00" width="1.00" height="20.40" fill="#1785c1"/>
<rect x="1008.00" y="198.90" width="5.00" height="12.50" fill="#1785c1"/>
<rect x="1019.00" y="189.20" width="1.00" height="17.20" fill="#000"/>
<rect x="1017.00" y="198.00" width="5.00" height="8.40" fill="#000"/>
<rect x="1028.00" y="183.00" width="1.00" height="23.00" fill="#1785c1"/>
<rect x="1026.00" y="186.00" width="5.00" height="20.00" fill="#1785c1"/>
<rect x="1037.00" y="184.00" width="1.00" height="26.80" fill="#000"/>
<rect x="1035.00" y="187.00" width="5.00" height="11.40" fill="#000"/>
<rect x="1046.00" y="192.30" width="1.00" height="11.40" fill="#1785c1"/>
<rect x="1044.00" y="196.00" width="5.00" height="2.00" fill="#1785c1"/>
<rect x="1055.00" y="189.80" width="1.00" height="15.80" fill="#000"/>
<rect x="1053.00" y="197.40" width="5.00" height="5.20" fill="#000"/>
<rect x="1064.00" y="202.20" width="1.00" height="18.80" fill="#000"/>
<rect x="1062.00" y="204.10" width="5.00" height="14.90" fill="#000"/>
<rect x="1073.00" y="211.80" width="1.00" height="16.20" fill="#1785c1"/>
<rect x="1071.00" y="216.10" width="5.00" height="2.30" fill="#1785c1"/>
<rect x="1082.00" y="209.80" width="1.00" height="35.00" fill="#000"/>
<rect x="1080.00" y="217.10" width="5.00" height="26.60" fill="#000"/>
<rect x="1091.00" y="230.90" width="1.00" height="22.90" fill="#1785c1"/>
<rect x="1089.00" y="233.20" width="5.00" height="12.60" fill="#1785c1"/>
<rect x="1100.00" y="229.00" width="1.00" height="24.80" fill="#000"/>
<rect x="1098.00" y="233.20" width="5.00" height="7.60" fill="#000"/>
<rect x="1109.00" y="240.40" width="1.00" height="28.30" fill="#000"/>
<rect x="1107.00" y="240.40" width="5.00" height="10.10" fill="#000"/>
<rect x="1118.00" y="225.10" width="1.00" height="26.80" fill="#1785c1"/>
<rect x="1116.00" y="225.10" width="5.00" height="24.90" fill="#1785c1"/>
<rect x="1127.00" y="187.00" width="1.00" height="39.50" fill="#1785c1"/>
<rect x="1125.00" y="202.20" width="5.00" height="24.30" fill="#1785c1"/>
<rect x="1136.00" y="188.40" width="1.00" height="28.10" fill="#1785c1"/>
<rect x="1134.00" y="189.80" width="5.00" height="12.80" fill="#1785c1"/>
<rect x="1145.00" y="184.00" width="1.00" height="57.80" fill="#000"/>
<rect x="1143.00" y="189.80" width="5.00" height="52.00" fill="#000"/>
<rect x="1154.00" y="230.90" width="1.00" height="35.90" fill="#1785c1"/>
<rect x="1152.00" y="239.00" width="5.00" height="2.00" fill="#1785c1"/>
<rect x="1163.00" y="211.40" width="1.00" height="33.40" fill="#1785c1"/>
<rect x="1161.00" y="219.00" width="5.00" height="21.80" fill="#1785c1"/>
<rect x="1172.00" y="196.00" width="1.00" height="21.50" fill="#1785c1"/>
<rect x="1170.00" y="209.30" width="5.00" height="8.20" fill="#1785c1"/>
<rect x="1181.00" y="188.20" width="1.00" height="33.70" fill="#1785c1"/>
<rect x="1179.00" y="193.10" width="5.00" height="16.40" fill="#1785c1"/>
<rect x="1190.00" y="149.80" width="1.00" height="44.00" fill="#1785c1"/>
<rect x="1188.00" y="154.00" width="5.00" height="39.80" fill="#1785c1"/>
<rect x="1199.00" y="125.40" width="1.00" height="36.30" fill="#1785c1"/>
<rect x="1197.00" y="130.30" width="5.00" height="24.30" fill="#1785c1"/>
<rect x="1208.00" y="102.40" width="1.00" height="37.50" fill="#1785c1"/>
<rect x="1206.00" y="106.20" width="5.00" height="25.50" fill="#1785c1"/>
<rect x="1217.00" y="94.40" width="1.00" height="20.40" fill="#000"/>
<rect x="1215.00" y="105.30" width="5.00" height="6.30" fill="#000"/>
<rect x="1226.00" y="86.20" width="1.00" height="26.40" fill="#1785c1"/>
<rect x="1224.00" y="88.10" width="5.00" height="24.50" fill="#1785c1"/>
<rect x="1235.00" y="75.30" width="1.00" height="31.50" fill="#000"/>
<rect x="1233.00" y="87.30" width="5.00" height="11.50" fill="#000"/>
<rect x="1244.00" y="75.30" width="1.00" height="23.50" fill="#1785c1"/>
<rect x="1242.00" y="84.30" width="5.00" height="14.50" fill="#1785c1"/>
<rect x="1253.00" y="79.10" width="1.00" height="24.50" fill="#000"/>
<rect x="1251.00" y="83.30" width="5.00" height="18.40" fill="#000"/>
<rect x="1262.00" y="97.30" width="1.00" height="20.20" fill="#000"/>
<rect x="1260.00" y="100.10" width="5.00" height="16.90" fill="#000"/>
<rect x="1271.00" y="94.40" width="1.00" height="25.40" fill="#1785c1"/>
<rect x="1269.00" y="109.10" width="5.00" height="5.70" fill="#1785c1"/>
<rect x="1280.00" y="98.20" width="1.00" height="16.60" fill="#1785c1"/>
<rect x="1278.00" y="105.30" width="5.00" height="4.40" fill="#1785c1"/>
<rect x="1289.00" y="87.10" width="1.00" height="17.40" fill="#1785c1"/>
<rect x="1287.00" y="96.30" width="5.00" height="8.20" fill="#1785c1"/>
<rect x="1298.00" y="95.00" width="1.00" height="33.80" fill="#000"/>
<rect x="1296.00" y="95.90" width="5.00" height="27.70" fill="#000"/>
<rect x="1307.00" y="115.40" width="1.00" height="23.30" fill="#000"/>
<rect x="1305.00" y="123.40" width="5.00" height="8.30" fill="#000"/>
<rect x="1316.00" y="129.20" width="1.00" height="34.60" fill="#000"/>
<rect x="1314.00" y="131.10" width="5.00" height="16.80" fill="#000"/>
<rect x="1325.00" y="132.20" width="1.00" height="16.30" fill="#1785c1"/>
<rect x="1323.00" y="137.00" width="5.00" height="11.50" fill="#1785c1"/>
<rect x="1334.00" y="134.10" width="1.00" height="14.80" fill="#000"/>
<rect x="1332.00" y="136.00" width="5.00" height="3.70" fill="#000"/>
<rect x="1343.00" y="132.20" width="1.00" height="12.80" fill="#000"/>
<rect x="1341.00" y="137.00" width="5.00" height="5.60" fill="#000"/>
<rect x="1352.00" y="120.20" width="1.00" height="20.40" fill="#1785c1"/>
<rect x="1350.00" y="134.10" width="5.00" height="6.50" fill="#1785c1"/>
<rect x="1361.00" y="129.20" width="1.00" height="12.60" fill="#1785c1"/>
<rect x="1359.00" y="134.00" width="5.00" height="1.50" fill="#1785c1"/>
<rect x="1370.00" y="132.20" width="1.00" height="30.60" fill="#000"/>
<rect x="1368.00" y="137.00" width="5.00" height="2.70" fill="#000"/>
<rect x="1379.00" y="138.70" width="1.00" height="23.20" fill="#000"/>
<rect x="1377.00" y="139.90" width="5.00" height="16.60" fill="#000"/>
<rect x="1388.00" y="131.10" width="1.00" height="27.90" fill="#1785c1"/>
<rect x="1386.00" y="150.20" width="5.00" height="6.70" fill="#1785c1"/>
<rect x="1397.00" y="137.00" width="1.00" height="16.60" fill="#1785c1"/>
<rect x="1395.00" y="141.20" width="5.00" height="8.20" fill="#1785c1"/>
<rect x="1406.00" y="125.00" width="1.00" height="28.60" fill="#1785c1"/>
<rect x="1404.00" y="140.00" width="5.00" height="1.20" fill="#1785c1"/>
<rect x="1415.00" y="137.00" width="1.00" height="29.60" fill="#000"/>
<rect x="1413.00" y="138.90" width="5.00" height="23.90" fill="#000"/>
<rect x="1424.00" y="149.20" width="1.00" height="24.90" fill="#1785c1"/>
<rect x="1422.00" y="152.10" width="5.00" height="11.70" fill="#1785c1"/>
<rect x="1433.00" y="114.10" width="1.00" height="36.70" fill="#1785c1"/>
<rect x="1431.00" y="131.30" width="5.00" height="19.50" fill="#1785c1"/>
<rect x="1442.00" y="124.00" width="1.00" height="33.80" fill="#000"/>
<rect x="1440.00" y="129.20" width="5.00" height="18.70" fill="#000"/>
<rect x="1451.00" y="144.10" width="1.00" height="14.90" fill="#000"/>
<rect x="1449.00" y="148.30" width="5.00" height="8.60" fill="#000"/>
<rect x="1460.00" y="155.00" width="1.00" height="31.70" fill="#000"/>
<rect x="1458.00" y="155.00" width="5.00" height="31.70" fill="#000"/>
<rect x="1469.00" y="180.00" width="1.00" height="27.10" fill="#1785c1"/>
<rect x="1467.00" y="185.20" width="5.00" height="2.50" fill="#1785c1"/>
<rect x="1478.00" y="179.10" width="1.00" height="21.90" fill="#000"/>
<rect x="1476.00" y="184.20" width="5.00" height="5.40" fill="#000"/>
<rect x="1487.00" y="184.30" width="1.00" height="18.70" fill="#1785c1"/>
<rect x="1485.00" y="189.40" width="5.00" height="1.40" fill="#1785c1"/>
<rect x="1496.00" y="165.20" width="1.00" height="26.70" fill="#1785c1"/>
<rect x="1494.00" y="179.10" width="5.00" height="11.20" fill="#1785c1"/>
<rect x="1505.00" y="175.20" width="1.00" height="43.30" fill="#000"/>
<rect x="1503.00" y="178.10" width="5.00" height="39.80" fill="#000"/>
<rect x="1514.00" y="200.10" width="1.00" height="20.70" fill="#000"/>
<rect x="1512.00" y="216.80" width="5.00" height="2.10" fill="#000"/>
<rect x="1523.00" y="193.40" width="1.00" height="36.40" fill="#1785c1"/>
<rect x="1521.00" y="195.90" width="5.00" height="22.80" fill="#1785c1"/>
<rect x="1532.00" y="189.60" width="1.00" height="21.00" fill="#000"/>
<rect x="1530.00" y="195.90" width="5.00" height="8.10" fill="#000"/>
<rect x="1541.00" y="203.00" width="1.00" height="38.80" fill="#000"/>
<rect x="1539.00" y="204.00" width="5.00" height="25.80" fill="#000"/>
<rect x="1550.00" y="228.00" width="1.00" height="48.60" fill="#000"/>
<rect x="1548.00" y="229.20" width="5.00" height="19.70" fill="#000"/>
<rect x="1559.00" y="250.00" width="1.00" height="59.40" fill="#000"/>
<rect x="1557.00" y="251.30" width="5.00" height="33.50" fill="#000"/>
<rect x="1568.00" y="266.10" width="1.00" height="37.40" fill="#000"/>
<rect x="1566.00" y="284.80" width="5.00" height="1.30" fill="#000"/>
<rect x="1577.00" y="269.30" width="1.00" height="32.60" fill="#000"/>
<rect x="1575.00" y="286.10" width="5.00" height="15.80" fill="#000"/>
<rect x="1586.00" y="291.90" width="1.00" height="32.90" fill="#1785c1"/>
<rect x="1584.00" y="301.80" width="5.00" height="2.00" fill="#1785c1"/>
<rect x="1595.00" y="247.00" width="1.00" height="57.90" fill="#1785c1"/>
<rect x="1593.00" y="262.20" width="5.00" height="42.70" fill="#1785c1"/>
<rect x="1604.00" y="242.20" width="1.00" height="23.50" fill="#1785c1"/>
<rect x="1602.00" y="254.20" width="5.00" height="9.00" fill="#1785c1"/>
<rect x="1613.00" y="231.00" width="1.00" height="27.40" fill="#1785c1"/>
<rect x="1611.00" y="233.00" width="5.00" height="22.00" fill="#1785c1"/>
<rect x="1622.00" y="213.00" width="1.00" height="31.70" fill="#1785c1"/>
<rect x="1620.00" y="214.80" width="5.00" height="17.20" fill="#1785c1"/>
<rect x="1631.00" y="206.40" width="1.00" height="24.30" fill="#000"/>
<rect x="1629.00" y="215.40" width="5.00" height="2.30" fill="#000"/>
<rect x="1640.00" y="201.10" width="1.00" height="24.80" fill="#1785c1"/>
<rect x="1638.00" y="216.00" width="5.00" height="1.30" fill="#1785c1"/>
<rect x="1649.00" y="216.90" width="1.00" height="23.00" fill="#000"/>
<rect x="1647.00" y="216.90" width="5.00" height="20.10" fill="#000"/>
<rect x="1658.00" y="219.80" width="1.00" height="23.90" fill="#1785c1"/>
<rect x="1656.00" y="221.20" width="5.00" height="15.80" fill="#1785c1"/>
<rect x="1667.00" y="205.30" width="1.00" height="17.40" fill="#1785c1"/>
<rect x="1665.00" y="215.40" width="5.00" height="5.80" fill="#1785c1"/>
<rect x="1676.00" y="189.60" width="1.00" height="42.10" fill="#1785c1"/>
<rect x="1674.00" y="209.30" width="5.00" height="6.70" fill="#1785c1"/>
<rect x="1685.00" y="205.30" width="1.00" height="84.70" fill="#000"/>
<rect x="1683.00" y="209.10" width="5.00" height="42.60" fill="#000"/>
<rect x="1694.00" y="242.20" width="1.00" height="65.40" fill="#000"/>
<rect x="1692.00" y="250.20" width="5.00" height="43.10" fill="#000"/>
<rect x="1703.00" y="287.10" width="1.00" height="65.60" fill="#000"/>
<rect x="1701.00" y="293.00" width="5.00" height="26.60" fill="#000"/>
<rect x="1712.00" y="270.30" width="1.00" height="55.10" fill="#1785c1"/>
<rect x="1710.00" y="292.00" width="5.00" height="25.70" fill="#1785c1"/>
<rect x="1721.00" y="262.20" width="1.00" height="41.30" fill="#1785c1"/>
<rect x="1719.00" y="265.10" width="5.00" height="27.50" fill="#1785c1"/>
<rect x="1730.00" y="171.10" width="1.00" height="106.40" fill="#1785c1"/>
<rect x="1728.00" y="256.10" width="5.00" height="9.60" fill="#1785c1"/>
<rect x="1739.00" y="244.10" width="1.00" height="137.60" fill="#000"/>
<rect x="1737.00" y="257.10" width="5.00" height="122.70" fill="#000"/>
<rect x="1748.00" y="262.20" width="1.00" height="124.30" fill="#000"/>
<rect x="1746.00" y="379.80" width="5.00" height="1.90" fill="#000"/>
<rect x="1757.00" y="368.30" width="1.00" height="129.30" fill="#000"/>
<rect x="1755.00" y="378.90" width="5.00" height="106.80" fill="#000"/>
<rect x="1766.00" y="437.00" width="1.00" height="106.30" fill="#1785c1"/>
<rect x="1764.00" y="479.00" width="5.00" height="6.00" fill="#1785c1"/>
<rect x="1775.00" y="424.00" width="1.00" height="96.70" fill="#1785c1"/>
<rect x="1773.00" y="463.90" width="5.00" height="16.90" fill="#1785c1"/>
<rect x="1784.00" y="457.20" width="1.00" height="97.80" fill="#000"/>
<rect x="1782.00" y="464.90" width="5.00" height="20.80" fill="#000"/>
<rect x="1793.00" y="473.00" width="1.00" height="82.00" fill="#000"/>
<rect x="1791.00" y="485.90" width="5.00" height="17.70" fill="#000"/>
<rect x="1802.00" y="469.10" width="1.00" height="67.40" fill="#000"/>
<rect x="1800.00" y="503.80" width="5.00" height="10.90" fill="#000"/>
<rect x="1811.00" y="430.00" width="1.00" height="95.60" fill="#1785c1"/>
<rect x="1809.00" y="431.60" width="5.00" height="82.10" fill="#1785c1"/>
<rect x="1820.00" y="403.00" width="1.00" height="97.60" fill="#1785c1"/>
<rect x="1818.00" y="418.20" width="5.00" height="16.80" fill="#1785c1"/>
<rect x="2.00" y="585.50" width="1.00" height="4.40" fill="#960010"/>
<rect x="0.00" y="588.00" width="5.00" height="1.90" fill="#960010"/>
<rect x="11.00" y="589.30" width="1.00" height="5.40" fill="#960010"/>
<rect x="9.00" y="589.30" width="5.00" height="5.40" fill="#960010"/>
<rect x="20.00" y="592.80" width="1.00" height="1.90" fill="#960010"/>
<rect x="18.00" y="593.70" width="5.00" height="1.00" fill="#960010"/>
<rect x="29.00" y="594.10" width="1.00" height="4.40" fill="#960010"/>
<rect x="27.00" y="594.10" width="5.00" height="1.90" fill="#960010"/>
<rect x="38.00" y="595.10" width="1.00" height="2.80" fill="#960010"/>
<rect x="36.00" y="595.10" width="5.00" height="2.80" fill="#960010"/>
<rect x="47.00" y="596.00" width="1.00" height="1.90" fill="#00aa14"/>
<rect x="45.00" y="596.00" width="5.00" height="1.90" fill="#00aa14"/>
<rect x="56.00" y="594.70" width="1.00" height="15.30" fill="#960010"/>
<rect x="54.00" y="596.00" width="5.00" height="14.00" fill="#960010"/>
<rect x="65.00" y="609.40" width="1.00" height="3.40" fill="#960010"/>
<rect x="63.00" y="609.40" width="5.00" height="3.40" fill="#960010"/>
<rect x="74.00" y="612.30" width="1.00" height="15.30" fill="#960010"/>
<rect x="72.00" y="612.30" width="5.00" height="15.30" fill="#960010"/>
<rect x="83.00" y="627.00" width="1.00" height="14.90" fill="#960010"/>
<rect x="81.00" y="627.00" width="5.00" height="14.90" fill="#960010"/>
<rect x="92.00" y="639.00" width="1.00" height="5.70" fill="#00aa14"/>
<rect x="90.00" y="641.00" width="5.00" height="1.30" fill="#00aa14"/>
<rect x="101.00" y="639.60" width="1.00" height="3.20" fill="#960010"/>
<rect x="99.00" y="641.00" width="5.00" height="1.80" fill="#960010"/>
<rect x="110.00" y="642.30" width="1.00" height="6.30" fill="#960010"/>
<rect x="108.00" y="642.30" width="5.00" height="6.30" fill="#960010"/>
<rect x="119.00" y="648.00" width="1.00" height="1.90" fill="#00aa14"/>
<rect x="117.00" y="648.00" width="5.00" height="1.10" fill="#00aa14"/>
<rect x="128.00" y="646.30" width="1.00" height="2.30" fill="#00aa14"/>
<rect x="126.00" y="646.30" width="5.00" height="2.30" fill="#00aa14"/>
<rect x="137.00" y="642.80" width="1.00" height="3.90" fill="#00aa14"/>
<rect x="135.00" y="644.20" width="5.00" height="2.50" fill="#00aa14"/>
<rect x="146.00" y="644.20" width="1.00" height="6.70" fill="#960010"/>
<rect x="144.00" y="644.20" width="5.00" height="6.70" fill="#960010"/>
<rect x="155.00" y="645.70" width="1.00" height="5.20" fill="#00aa14"/>
<rect x="153.00" y="647.00" width="5.00" height="3.90" fill="#00aa14"/>
<rect x="164.00" y="646.90" width="1.00" height="1.00" fill="#960010"/>
<rect x="162.00" y="646.90" width="5.00" height="1.00" fill="#960010"/>
<rect x="173.00" y="641.90" width="1.00" height="7.10" fill="#00aa14"/>
<rect x="171.00" y="643.20" width="5.00" height="4.80" fill="#00aa14"/>
<rect x="182.00" y="639.60" width="1.00" height="3.80" fill="#00aa14"/>
<rect x="180.00" y="641.00" width="5.00" height="2.40" fill="#00aa14"/>
<rect x="191.00" y="641.30" width="1.00" height="8.20" fill="#960010"/>
<rect x="189.00" y="641.30" width="5.00" height="8.20" fill="#960010"/>
<rect x="200.00" y="647.60" width="1.00" height="14.40" fill="#960010"/>
<rect x="198.00" y="649.10" width="5.00" height="12.90" fill="#960010"/>
<rect x="209.00" y="662.30" width="1.00" height="7.70" fill="#960010"/>
<rect x="207.00" y="662.30" width="5.00" height="3.50" fill="#960010"/>
<rect x="218.00" y="662.90" width="1.00" height="2.90" fill="#00aa14"/>
<rect x="216.00" y="662.90" width="5.00" height="2.90" fill="#00aa14"/>
<rect x="227.00" y="661.60" width="1.00" height="2.40" fill="#960010"/>
<rect x="225.00" y="663.00" width="5.00" height="1.00" fill="#960010"/>
<rect x="236.00" y="662.00" width="1.00" height="2.00" fill="#00aa14"/>
<rect x="234.00" y="663.00" width="5.00" height="1.00" fill="#00aa14"/>
<rect x="245.00" y="662.00" width="1.00" height="2.00" fill="#00aa14"/>
<rect x="243.00" y="662.00" width="5.00" height="2.00" fill="#00aa14"/>
<rect x="254.00" y="659.70" width="1.00" height="3.30" fill="#00aa14"/>
<rect x="252.00" y="661.00" width="5.00" height="2.00" fill="#00aa14"/>
<rect x="263.00" y="658.70" width="1.00" height="5.20" fill="#960010"/>
<rect x="261.00" y="661.40" width="5.00" height="2.50" fill="#960010"/>
<rect x="272.00" y="657.20" width="1.00" height="6.70" fill="#00aa14"/>
<rect x="270.00" y="657.20" width="5.00" height="6.70" fill="#00aa14"/>
<rect x="281.00" y="655.60" width="1.00" height="3.50" fill="#960010"/>
<rect x="279.00" y="656.80" width="5.00" height="1.20" fill="#960010"/>
<rect x="290.00" y="651.40" width="1.00" height="6.20" fill="#00aa14"/>
<rect x="288.00" y="653.00" width="5.00" height="4.60" fill="#00aa14"/>
<rect x="299.00" y="653.00" width="1.00" height="4.70" fill="#960010"/>
<rect x="297.00" y="653.00" width="5.00" height="4.70" fill="#960010"/>
<rect x="308.00" y="657.20" width="1.00" height="2.80" fill="#960010"/>
<rect x="306.00" y="657.20" width="5.00" height="1.80" fill="#960010"/>
<rect x="317.00" y="658.10" width="1.00" height="1.90" fill="#960010"/>
<rect x="315.00" y="658.10" width="5.00" height="1.90" fill="#960010"/>
<rect x="326.00" y="654.90" width="1.00" height="4.80" fill="#00aa14"/>
<rect x="324.00" y="656.20" width="5.00" height="3.50" fill="#00aa14"/>
<rect x="335.00" y="653.00" width="1.00" height="3.80" fill="#00aa14"/>
<rect x="333.00" y="654.30" width="5.00" height="2.50" fill="#00aa14"/>
<rect x="344.00" y="655.30" width="1.00" height="3.70" fill="#960010"/>
<rect x="342.00" y="655.30" width="5.00" height="1.90" fill="#960010"/>
<rect x="353.00" y="653.30" width="1.00" height="3.90" fill="#00aa14"/>
<rect x="351.00" y="656.20" width="5.00" height="1.00" fill="#00aa14"/>
<rect x="362.00" y="656.20" width="1.00" height="4.20" fill="#960010"/>
<rect x="360.00" y="656.20" width="5.00" height="4.20" fill="#960010"/>
<rect x="371.00" y="660.40" width="1.00" height="1.20" fill="#960010"/>
<rect x="369.00" y="660.40" width="5.00" height="1.20" fill="#960010"/>
<rect x="380.00" y="661.40" width="1.00" height="1.30" fill="#960010"/>
<rect x="378.00" y="661.40" width="5.00" height="1.30" fill="#960010"/>
<rect x="389.00" y="654.30" width="1.00" height="8.00" fill="#00aa14"/>
<rect x="387.00" y="654.30" width="5.00" height="8.00" fill="#00aa14"/>
<rect x="398.00" y="654.00" width="1.00" height="1.80" fill="#00aa14"/>
<rect x="396.00" y="654.00" width="5.00" height="1.00" fill="#00aa14"/>
<rect x="407.00" y="650.10" width="1.00" height="4.20" fill="#00aa14"/>
<rect x="405.00" y="651.40" width="5.00" height="2.90" fill="#00aa14"/>
<rect x="416.00" y="649.90" width="1.00" height="1.90" fill="#960010"/>
<rect x="414.00" y="650.90" width="5.00" height="1.00" fill="#960010"/>
<rect x="425.00" y="650.10" width="1.00" height="4.60" fill="#960010"/>
<rect x="423.00" y="651.40" width="5.00" height="3.30" fill="#960010"/>
<rect x="434.00" y="654.30" width="1.00" height="4.20" fill="#960010"/>
<rect x="432.00" y="654.30" width="5.00" height="4.20" fill="#960010"/>
<rect x="443.00" y="658.10" width="1.00" height="5.40" fill="#960010"/>
<rect x="441.00" y="658.10" width="5.00" height="5.40" fill="#960010"/>
<rect x="452.00" y="658.50" width="1.00" height="5.00" fill="#00aa14"/>
<rect x="450.00" y="658.50" width="5.00" height="5.00" fill="#00aa14"/>
<rect x="461.00" y="658.50" width="1.00" height="1.90" fill="#960010"/>
<rect x="459.00" y="658.50" width="5.00" height="1.90" fill="#960010"/>
<rect x="470.00" y="655.80" width="1.00" height="4.60" fill="#00aa14"/>
<rect x="468.00" y="657.20" width="5.00" height="3.20" fill="#00aa14"/>
<rect x="479.00" y="652.40" width="1.00" height="5.20" fill="#00aa14"/>
<rect x="477.00" y="652.40" width="5.00" height="5.20" fill="#00aa14"/>
<rect x="488.00" y="652.40" width="1.00" height="2.30" fill="#960010"/>
<rect x="486.00" y="652.40" width="5.00" height="2.30" fill="#960010"/>
<rect x="497.00" y="653.90" width="1.00" height="1.70" fill="#960010"/>
<rect x="495.00" y="653.90" width="5.00" height="1.70" fill="#960010"/>
<rect x="506.00" y="645.70" width="1.00" height="9.60" fill="#00aa14"/>
<rect x="504.00" y="647.00" width="5.00" height="8.30" fill="#00aa14"/>
<rect x="515.00" y="638.10" width="1.00" height="9.50" fill="#00aa14"/>
<rect x="513.00" y="642.50" width="5.00" height="5.10" fill="#00aa14"/>
<rect x="524.00" y="640.90" width="1.00" height="2.50" fill="#960010"/>
<rect x="522.00" y="641.90" width="5.00" height="1.50" fill="#960010"/>
<rect x="533.00" y="643.20" width="1.00" height="2.10" fill="#960010"/>
<rect x="531.00" y="643.20" width="5.00" height="2.10" fill="#960010"/>
<rect x="542.00" y="643.80" width="1.00" height="3.80" fill="#960010"/>
<rect x="540.00" y="645.10" width="5.00" height="2.50" fill="#960010"/>
<rect x="551.00" y="645.10" width="1.00" height="2.50" fill="#00aa14"/>
<rect x="549.00" y="646.10" width="5.00" height="1.50" fill="#00aa14"/>
<rect x="560.00" y="645.10" width="1.00" height="1.90" fill="#00aa14"/>
<rect x="558.00" y="646.30" width="5.00" height="1.00" fill="#00aa14"/>
<rect x="569.00" y="642.80" width="1.00" height="3.90" fill="#00aa14"/>
<rect x="567.00" y="644.20" width="5.00" height="2.50" fill="#00aa14"/>
<rect x="578.00" y="643.00" width="1.00" height="1.90" fill="#960010"/>
<rect x="576.00" y="644.20" width="5.00" height="1.00" fill="#960010"/>
<rect x="587.00" y="643.00" width="1.00" height="1.90" fill="#960010"/>
<rect x="585.00" y="644.20" width="5.00" height="1.00" fill="#960010"/>
<rect x="596.00" y="644.20" width="1.00" height="1.50" fill="#00aa14"/>
<rect x="594.00" y="644.20" width="5.00" height="1.00" fill="#00aa14"/>
<rect x="605.00" y="644.20" width="1.00" height="1.00" fill="#00aa14"/>
<rect x="603.00" y="644.20" width="5.00" height="1.00" fill="#00aa14"/>
<rect x="614.00" y="642.80" width="1.00" height="2.90" fill="#960010"/>
<rect x="612.00" y="644.20" width="5.00" height="1.50" fill="#960010"/>
<rect x="623.00" y="643.80" width="1.00" height="4.80" fill="#960010"/>
<rect x="621.00" y="645.10" width="5.00" height="3.50" fill="#960010"/>
<rect x="632.00" y="645.70" width="1.00" height="2.90" fill="#00aa14"/>
<rect x="630.00" y="647.00" width="5.00" height="1.60" fill="#00aa14"/>
<rect x="641.00" y="647.20" width="1.00" height="2.30" fill="#960010"/>
<rect x="639.00" y="647.20" width="5.00" height="1.40" fill="#960010"/>
<rect x="650.00" y="648.20" width="1.00" height="1.30" fill="#960010"/>
<rect x="648.00" y="648.20" width="5.00" height="1.30" fill="#960010"/>
<rect x="659.00" y="648.20" width="1.00" height="1.30" fill="#00aa14"/>
<rect x="657.00" y="648.20" width="5.00" height="1.30" fill="#00aa14"/>
<rect x="668.00" y="648.20" width="1.00" height="2.30" fill="#960010"/>
<rect x="666.00" y="648.20" width="5.00" height="2.30" fill="#960010"/>
<rect x="677.00" y="646.70" width="1.00" height="3.80" fill="#00aa14"/>
<rect x="675.00" y="648.00" width="5.00" height="2.50" fill="#00aa14"/>
<rect x="686.00" y="647.00" width="1.00" height="1.80" fill="#960010"/>
<rect x="684.00" y="648.00" width="5.00" height="1.00" fill="#960010"/>
<rect x="695.00" y="648.00" width="1.00" height="1.00" fill="#960010"/>
<rect x="693.00" y="648.00" width="5.00" height="1.00" fill="#960010"/>
<rect x="704.00" y="648.00" width="1.00" height="1.50" fill="#960010"/>
<rect x="702.00" y="648.00" width="5.00" height="1.50" fill="#960010"/>
<rect x="713.00" y="647.80" width="1.00" height="1.70" fill="#960010"/>
<rect x="711.00" y="648.80" width="5.00" height="1.00" fill="#960010"/>
<rect x="722.00" y="647.60" width="1.00" height="1.90" fill="#00aa14"/>
<rect x="720.00" y="648.60" width="5.00" height="1.00" fill="#00aa14"/>
<rect x="731.00" y="647.20" width="1.00" height="2.30" fill="#00aa14"/>
<rect x="729.00" y="647.20" width="5.00" height="2.30" fill="#00aa14"/>
<rect x="740.00" y="647.00" width="1.00" height="1.60" fill="#960010"/>
<rect x="738.00" y="647.00" width="5.00" height="1.60" fill="#960010"/>
<rect x="749.00" y="642.50" width="1.00" height="5.70" fill="#00aa14"/>
<rect x="747.00" y="642.50" width="5.00" height="5.70" fill="#00aa14"/>
<rect x="758.00" y="639.40" width="1.00" height="3.10" fill="#00aa14"/>
<rect x="756.00" y="640.50" width="5.00" height="2.00" fill="#00aa14"/>
<rect x="767.00" y="639.40" width="1.00" height="1.50" fill="#00aa14"/>
<rect x="765.00" y="639.40" width="5.00" height="1.50" fill="#00aa14"/>
<rect x="776.00" y="634.80" width="1.00" height="4.80" fill="#00aa14"/>
<rect x="774.00" y="636.50" width="5.00" height="3.10" fill="#00aa14"/>
<rect x="785.00" y="637.10" width="1.00" height="1.30" fill="#960010"/>
<rect x="783.00" y="637.10" width="5.00" height="1.30" fill="#960010"/>
<rect x="794.00" y="637.10" width="1.00" height="1.30" fill="#00aa14"/>
<rect x="792.00" y="637.10" width="5.00" height="1.30" fill="#00aa14"/>
<rect x="803.00" y="637.10" width="1.00" height="1.30" fill="#960010"/>
<rect x="801.00" y="637.10" width="5.00" height="1.30" fill="#960010"/>
<rect x="812.00" y="638.10" width="1.00" height="5.30" fill="#960010"/>
<rect x="810.00" y="638.10" width="5.00" height="5.30" fill="#960010"/>
<rect x="821.00" y="643.20" width="1.00" height="6.70" fill="#960010"/>
<rect x="819.00" y="643.20" width="5.00" height="5.40" fill="#960010"/>
<rect x="830.00" y="648.00" width="1.00" height="1.90" fill="#960010"/>
<rect x="828.00" y="648.00" width="5.00" height="1.00" fill="#960010"/>
<rect x="839.00" y="646.30" width="1.00" height="4.20" fill="#960010"/>
<rect x="837.00" y="648.00" width="5.00" height="2.50" fill="#960010"/>
<rect x="848.00" y="650.10" width="1.00" height="1.00" fill="#00aa14"/>
<rect x="846.00" y="650.10" width="5.00" height="1.00" fill="#00aa14"/>
<rect x="857.00" y="646.70" width="1.00" height="3.80" fill="#00aa14"/>
<rect x="855.00" y="648.20" width="5.00" height="2.30" fill="#00aa14"/>
<rect x="866.00" y="648.20" width="1.00" height="2.70" fill="#960010"/>
<rect x="864.00" y="648.20" width="5.00" height="1.70" fill="#960010"/>
<rect x="875.00" y="647.00" width="1.00" height="2.50" fill="#00aa14"/>
<rect x="873.00" y="647.00" width="5.00" height="2.50" fill="#00aa14"/>
<rect x="884.00" y="645.70" width="1.00" height="3.80" fill="#960010"/>
<rect x="882.00" y="647.00" width="5.00" height="2.50" fill="#960010"/>
<rect x="893.00" y="648.00" width="1.00" height="1.70" fill="#960010"/>
<rect x="891.00" y="649.00" width="5.00" height="1.00" fill="#960010"/>
<rect x="902.00" y="647.20" width="1.00" height="2.30" fill="#00aa14"/>
<rect x="900.00" y="647.20" width="5.00" height="2.30" fill="#00aa14"/>
<rect x="911.00" y="644.70" width="1.00" height="2.90" fill="#00aa14"/>
<rect x="909.00" y="646.10" width="5.00" height="1.50" fill="#00aa14"/>
<rect x="920.00" y="645.10" width="1.00" height="1.90" fill="#960010"/>
<rect x="918.00" y="646.10" width="5.00" height="1.00" fill="#960010"/>
<rect x="929.00" y="640.00" width="1.00" height="6.70" fill="#00aa14"/>
<rect x="927.00" y="641.30" width="5.00" height="5.40" fill="#00aa14"/>
<rect x="938.00" y="640.90" width="1.00" height="1.60" fill="#960010"/>
<rect x="936.00" y="640.90" width="5.00" height="1.60" fill="#960010"/>
<rect x="947.00" y="640.50" width="1.00" height="2.90" fill="#960010"/>
<rect x="945.00" y="641.90" width="5.00" height="1.50" fill="#960010"/>
<rect x="956.00" y="639.00" width="1.00" height="4.20" fill="#00aa14"/>
<rect x="954.00" y="640.40" width="5.00" height="2.80" fill="#00aa14"/>
<rect x="965.00" y="639.00" width="1.00" height="1.50" fill="#00aa14"/>
<rect x="963.00" y="639.00" width="5.00" height="1.50" fill="#00aa14"/>
<rect x="974.00" y="631.40" width="1.00" height="8.00" fill="#00aa14"/>
<rect x="972.00" y="631.40" width="5.00" height="8.00" fill="#00aa14"/>
<rect x="983.00" y="629.10" width="1.00" height="3.20" fill="#960010"/>
<rect x="981.00" y="631.00" width="5.00" height="1.30" fill="#960010"/>
<rect x="992.00" y="632.00" width="1.00" height="1.00" fill="#960010"/>
<rect x="990.00" y="632.00" width="5.00" height="1.00" fill="#960010"/>
<rect x="1001.00" y="629.50" width="1.00" height="2.80" fill="#00aa14"/>
<rect x="999.00" y="629.50" width="5.00" height="2.80" fill="#00aa14"/>
<rect x="1010.00" y="625.60" width="1.00" height="3.90" fill="#00aa14"/>
<rect x="1008.00" y="625.60" width="5.00" height="3.90" fill="#00aa14"/>
<rect x="1019.00" y="623.70" width="1.00" height="2.10" fill="#00aa14"/>
<rect x="1017.00" y="624.70" width="5.00" height="1.10" fill="#00aa14"/>
<rect x="1028.00" y="619.30" width="1.00" height="6.00" fill="#00aa14"/>
<rect x="1026.00" y="619.30" width="5.00" height="6.00" fill="#00aa14"/>
<rect x="1037.00" y="618.40" width="1.00" height="2.50" fill="#00aa14"/>
<rect x="1035.00" y="618.40" width="5.00" height="1.50" fill="#00aa14"/>
<rect x="1046.00" y="617.00" width="1.00" height="1.60" fill="#00aa14"/>
<rect x="1044.00" y="617.00" width="5.00" height="1.60" fill="#00aa14"/>
<rect x="1055.00" y="617.00" width="1.00" height="1.60" fill="#960010"/>
<rect x="1053.00" y="617.00" width="5.00" height="1.60" fill="#960010"/>
<rect x="1064.00" y="618.40" width="1.00" height="4.90" fill="#960010"/>
<rect x="1062.00" y="618.40" width="5.00" height="4.90" fill="#960010"/>
<rect x="1073.00" y="621.80" width="1.00" height="5.80" fill="#960010"/>
<rect x="1071.00" y="623.20" width="5.00" height="4.40" fill="#960010"/>
<rect x="1082.00" y="627.00" width="1.00" height="7.60" fill="#960010"/>
<rect x="1080.00" y="627.00" width="5.00" height="7.60" fill="#960010"/>
<rect x="1091.00" y="634.20" width="1.00" height="2.00" fill="#00aa14"/>
<rect x="1089.00" y="634.20" width="5.00" height="1.00" fill="#00aa14"/>
<rect x="1100.00" y="634.20" width="1.00" height="1.60" fill="#960010"/>
<rect x="1098.00" y="634.20" width="5.00" height="1.60" fill="#960010"/>
<rect x="1109.00" y="635.20" width="1.00" height="4.80" fill="#960010"/>
<rect x="1107.00" y="635.20" width="5.00" height="3.20" fill="#960010"/>
<rect x="1118.00" y="635.60" width="1.00" height="2.80" fill="#00aa14"/>
<rect x="1116.00" y="635.60" width="5.00" height="2.80" fill="#00aa14"/>
<rect x="1127.00" y="630.00" width="1.00" height="5.60" fill="#00aa14"/>
<rect x="1125.00" y="632.00" width="5.00" height="3.60" fill="#00aa14"/>
<rect x="1136.00" y="629.50" width="1.00" height="2.80" fill="#00aa14"/>
<rect x="1134.00" y="629.50" width="5.00" height="2.80" fill="#00aa14"/>
<rect x="1145.00" y="627.20" width="1.00" height="8.60" fill="#960010"/>
<rect x="1143.00" y="629.10" width="5.00" height="6.70" fill="#960010"/>
<rect x="1154.00" y="635.20" width="1.00" height="3.40" fill="#960010"/>
<rect x="1152.00" y="635.20" width="5.00" height="1.00" fill="#960010"/>
<rect x="1163.00" y="631.00" width="1.00" height="4.60" fill="#00aa14"/>
<rect x="1161.00" y="632.30" width="5.00" height="3.30" fill="#00aa14"/>
<rect x="1172.00" y="628.50" width="1.00" height="3.80" fill="#00aa14"/>
<rect x="1170.00" y="630.40" width="5.00" height="1.90" fill="#00aa14"/>
<rect x="1181.00" y="627.60" width="1.00" height="3.20" fill="#00aa14"/>
<rect x="1179.00" y="627.60" width="5.00" height="3.20" fill="#00aa14"/>
<rect x="1190.00" y="611.90" width="1.00" height="15.70" fill="#00aa14"/>
<rect x="1188.00" y="613.20" width="5.00" height="14.40" fill="#00aa14"/>
<rect x="1199.00" y="607.10" width="1.00" height="6.50" fill="#00aa14"/>
<rect x="1197.00" y="608.40" width="5.00" height="5.20" fill="#00aa14"/>
<rect x="1208.00" y="605.60" width="1.00" height="4.80" fill="#00aa14"/>
<rect x="1206.00" y="607.90" width="5.00" height="1.10" fill="#00aa14"/>
<rect x="1217.00" y="602.30" width="1.00" height="6.50" fill="#00aa14"/>
<rect x="1215.00" y="604.00" width="5.00" height="4.80" fill="#00aa14"/>
<rect x="1226.00" y="598.50" width="1.00" height="6.10" fill="#00aa14"/>
<rect x="1224.00" y="598.50" width="5.00" height="6.10" fill="#00aa14"/>
<rect x="1235.00" y="593.30" width="1.00" height="5.20" fill="#00aa14"/>
<rect x="1233.00" y="594.70" width="5.00" height="3.80" fill="#00aa14"/>
<rect x="1244.00" y="589.30" width="1.00" height="5.20" fill="#00aa14"/>
<rect x="1242.00" y="589.30" width="5.00" height="5.20" fill="#00aa14"/>
<rect x="1253.00" y="589.30" width="1.00" height="3.30" fill="#960010"/>
<rect x="1251.00" y="589.30" width="5.00" height="3.30" fill="#960010"/>
<rect x="1262.00" y="592.20" width="1.00" height="3.40" fill="#960010"/>
<rect x="1260.00" y="592.20" width="5.00" height="2.30" fill="#960010"/>
<rect x="1271.00" y="590.70" width="1.00" height="4.00" fill="#00aa14"/>
<rect x="1269.00" y="590.70" width="5.00" height="4.00" fill="#00aa14"/>
<rect x="1280.00" y="588.80" width="1.00" height="1.90" fill="#00aa14"/>
<rect x="1278.00" y="588.80" width="5.00" height="1.90" fill="#00aa14"/>
<rect x="1289.00" y="586.10" width="1.00" height="3.60" fill="#00aa14"/>
<rect x="1287.00" y="587.40" width="5.00" height="2.30" fill="#00aa14"/>
<rect x="1298.00" y="587.00" width="1.00" height="6.70" fill="#960010"/>
<rect x="1296.00" y="587.00" width="5.00" height="6.70" fill="#960010"/>
<rect x="1307.00" y="591.60" width="1.00" height="3.10" fill="#960010"/>
<rect x="1305.00" y="593.50" width="5.00" height="1.20" fill="#960010"/>
<rect x="1316.00" y="594.10" width="1.00" height="2.50" fill="#960010"/>
<rect x="1314.00" y="594.10" width="5.00" height="1.50" fill="#960010"/>
<rect x="1325.00" y="591.80" width="1.00" height="3.20" fill="#00aa14"/>
<rect x="1323.00" y="592.80" width="5.00" height="2.20" fill="#00aa14"/>
<rect x="1334.00" y="593.20" width="1.00" height="4.30" fill="#960010"/>
<rect x="1332.00" y="593.20" width="5.00" height="1.80" fill="#960010"/>
<rect x="1343.00" y="595.00" width="1.00" height="3.50" fill="#960010"/>
<rect x="1341.00" y="595.00" width="5.00" height="3.50" fill="#960010"/>
<rect x="1352.00" y="596.00" width="1.00" height="2.90" fill="#00aa14"/>
<rect x="1350.00" y="597.00" width="5.00" height="1.90" fill="#00aa14"/>
<rect x="1361.00" y="597.40" width="1.00" height="1.10" fill="#960010"/>
<rect x="1359.00" y="597.40" width="5.00" height="1.10" fill="#960010"/>
<rect x="1370.00" y="597.00" width="1.00" height="4.40" fill="#960010"/>
<rect x="1368.00" y="597.90" width="5.00" height="3.50" fill="#960010"/>
<rect x="1379.00" y="600.80" width="1.00" height="1.00" fill="#960010"/>
<rect x="1377.00" y="600.80" width="5.00" height="1.00" fill="#960010"/>
<rect x="1388.00" y="597.90" width="1.00" height="4.80" fill="#960010"/>
<rect x="1386.00" y="601.40" width="5.00" height="1.30" fill="#960010"/>
<rect x="1397.00" y="601.20" width="1.00" height="1.70" fill="#00aa14"/>
<rect x="1395.00" y="602.10" width="5.00" height="1.00" fill="#00aa14"/>
<rect x="1406.00" y="597.90" width="1.00" height="4.80" fill="#00aa14"/>
<rect x="1404.00" y="599.80" width="5.00" height="2.90" fill="#00aa14"/>
<rect x="1415.00" y="600.20" width="1.00" height="4.40" fill="#960010"/>
<rect x="1413.00" y="600.20" width="5.00" height="4.40" fill="#960010"/>
<rect x="1424.00" y="604.20" width="1.00" height="4.20" fill="#960010"/>
<rect x="1422.00" y="604.20" width="5.00" height="4.20" fill="#960010"/>
<rect x="1433.00" y="600.80" width="1.00" height="7.60" fill="#00aa14"/>
<rect x="1431.00" y="602.30" width="5.00" height="6.10" fill="#00aa14"/>
<rect x="1442.00" y="602.20" width="1.00" height="3.50" fill="#960010"/>
<rect x="1440.00" y="602.20" width="5.00" height="3.50" fill="#960010"/>
<rect x="1451.00" y="604.90" width="1.00" height="1.60" fill="#960010"/>
<rect x="1449.00" y="604.90" width="5.00" height="1.60" fill="#960010"/>
<rect x="1460.00" y="604.30" width="1.00" height="8.60" fill="#960010"/>
<rect x="1458.00" y="606.20" width="5.00" height="6.70" fill="#960010"/>
<rect x="1469.00" y="612.30" width="1.00" height="4.60" fill="#960010"/>
<rect x="1467.00" y="612.30" width="5.00" height="1.90" fill="#960010"/>
<rect x="1478.00" y="611.80" width="1.00" height="3.70" fill="#960010"/>
<rect x="1476.00" y="613.10" width="5.00" height="2.40" fill="#960010"/>
<rect x="1487.00" y="614.70" width="1.00" height="1.10" fill="#960010"/>
<rect x="1485.00" y="614.70" width="5.00" height="1.10" fill="#960010"/>
<rect x="1496.00" y="610.50" width="1.00" height="5.30" fill="#00aa14"/>
<rect x="1494.00" y="612.30" width="5.00" height="3.50" fill="#00aa14"/>
<rect x="1505.00" y="612.30" width="1.00" height="9.40" fill="#960010"/>
<rect x="1503.00" y="612.30" width="5.00" height="9.40" fill="#960010"/>
<rect x="1514.00" y="620.90" width="1.00" height="1.10" fill="#960010"/>
<rect x="1512.00" y="620.90" width="5.00" height="1.10" fill="#960010"/>
<rect x="1523.00" y="617.70" width="1.00" height="6.10" fill="#00aa14"/>
<rect x="1521.00" y="617.70" width="5.00" height="4.00" fill="#00aa14"/>
<rect x="1532.00" y="615.80" width="1.00" height="2.70" fill="#960010"/>
<rect x="1530.00" y="616.90" width="5.00" height="1.60" fill="#960010"/>
<rect x="1541.00" y="618.20" width="1.00" height="6.70" fill="#960010"/>
<rect x="1539.00" y="618.20" width="5.00" height="5.30" fill="#960010"/>
<rect x="1550.00" y="623.50" width="1.00" height="9.40" fill="#960010"/>
<rect x="1548.00" y="623.50" width="5.00" height="2.20" fill="#960010"/>
<rect x="1559.00" y="625.10" width="1.00" height="13.90" fill="#960010"/>
<rect x="1557.00" y="625.10" width="5.00" height="12.60" fill="#960010"/>
<rect x="1568.00" y="635.00" width="1.00" height="4.00" fill="#00aa14"/>
<rect x="1566.00" y="636.10" width="5.00" height="1.90" fill="#00aa14"/>
<rect x="1577.00" y="633.10" width="1.00" height="4.90" fill="#960010"/>
<rect x="1575.00" y="636.40" width="5.00" height="1.60" fill="#960010"/>
<rect x="1586.00" y="637.70" width="1.00" height="10.10" fill="#960010"/>
<rect x="1584.00" y="637.70" width="5.00" height="4.00" fill="#960010"/>
<rect x="1595.00" y="631.80" width="1.00" height="9.90" fill="#00aa14"/>
<rect x="1593.00" y="634.20" width="5.00" height="7.50" fill="#00aa14"/>
<rect x="1604.00" y="630.20" width="1.00" height="4.50" fill="#00aa14"/>
<rect x="1602.00" y="632.30" width="5.00" height="2.40" fill="#00aa14"/>
<rect x="1613.00" y="626.20" width="1.00" height="6.90" fill="#00aa14"/>
<rect x="1611.00" y="627.50" width="5.00" height="5.60" fill="#00aa14"/>
<rect x="1622.00" y="619.00" width="1.00" height="8.50" fill="#00aa14"/>
<rect x="1620.00" y="621.10" width="5.00" height="6.40" fill="#00aa14"/>
<rect x="1631.00" y="615.80" width="1.00" height="5.60" fill="#00aa14"/>
<rect x="1629.00" y="617.70" width="5.00" height="3.70" fill="#00aa14"/>
<rect x="1640.00" y="613.10" width="1.00" height="5.40" fill="#00aa14"/>
<rect x="1638.00" y="617.10" width="5.00" height="1.40" fill="#00aa14"/>
<rect x="1649.00" y="617.10" width="1.00" height="5.40" fill="#960010"/>
<rect x="1647.00" y="617.10" width="5.00" height="5.40" fill="#960010"/>
<rect x="1658.00" y="617.70" width="1.00" height="7.20" fill="#00aa14"/>
<rect x="1656.00" y="617.70" width="5.00" height="5.30" fill="#00aa14"/>
<rect x="1667.00" y="611.00" width="1.00" height="6.70" fill="#00aa14"/>
<rect x="1665.00" y="614.20" width="5.00" height="3.50" fill="#00aa14"/>
<rect x="1676.00" y="607.50" width="1.00" height="9.40" fill="#00aa14"/>
<rect x="1674.00" y="607.50" width="5.00" height="7.00" fill="#00aa14"/>
<rect x="1685.00" y="607.00" width="1.00" height="29.90" fill="#960010"/>
<rect x="1683.00" y="607.00" width="5.00" height="19.50" fill="#960010"/>
<rect x="1694.00" y="624.90" width="1.00" height="8.00" fill="#960010"/>
<rect x="1692.00" y="626.20" width="5.00" height="6.70" fill="#960010"/>
<rect x="1703.00" y="632.30" width="1.00" height="20.60" fill="#960010"/>
<rect x="1701.00" y="632.30" width="5.00" height="11.50" fill="#960010"/>
<rect x="1712.00" y="630.20" width="1.00" height="13.40" fill="#00aa14"/>
<rect x="1710.00" y="638.50" width="5.00" height="5.10" fill="#00aa14"/>
<rect x="1721.00" y="628.90" width="1.00" height="9.60" fill="#00aa14"/>
<rect x="1719.00" y="630.20" width="5.00" height="8.30" fill="#00aa14"/>
<rect x="1730.00" y="592.30" width="1.00" height="38.20" fill="#00aa14"/>
<rect x="1728.00" y="605.10" width="5.00" height="25.40" fill="#00aa14"/>
<rect x="1739.00" y="605.10" width="1.00" height="53.90" fill="#960010"/>
<rect x="1737.00" y="605.10" width="5.00" height="53.90" fill="#960010"/>
<rect x="1748.00" y="613.10" width="1.00" height="48.60" fill="#00aa14"/>
<rect x="1746.00" y="656.40" width="5.00" height="2.60" fill="#00aa14"/>
<rect x="1757.00" y="654.20" width="1.00" height="55.50" fill="#960010"/>
<rect x="1755.00" y="655.80" width="5.00" height="53.90" fill="#960010"/>
<rect x="1766.00" y="698.20" width="1.00" height="31.50" fill="#960010"/>
<rect x="1764.00" y="709.70" width="5.00" height="4.00" fill="#960010"/>
<rect x="1775.00" y="696.40" width="1.00" height="29.30" fill="#00aa14"/>
<rect x="1773.00" y="705.20" width="5.00" height="8.00" fill="#00aa14"/>
<rect x="1784.00" y="704.90" width="1.00" height="52.80" fill="#960010"/>
<rect x="1782.00" y="704.90" width="5.00" height="22.70" fill="#960010"/>
<rect x="1793.00" y="727.00" width="1.00" height="53.40" fill="#960010"/>
<rect x="1791.00" y="727.00" width="5.00" height="32.60" fill="#960010"/>
<rect x="1802.00" y="746.20" width="1.00" height="21.40" fill="#960010"/>
<rect x="1800.00" y="759.00" width="5.00" height="3.50" fill="#960010"/>
<rect x="1811.00" y="715.80" width="1.00" height="48.60" fill="#00aa14"/>
<rect x="1809.00" y="717.20" width="5.00" height="45.30" fill="#00aa14"/>
<rect x="1820.00" y="702.20" width="1.00" height="32.00" fill="#00aa14"/>
<rect x="1818.00" y="703.80" width="5.00" height="13.90" fill="#00aa14"/>
</g>
<rect x="1460.00" y="15.00" width="1.00" height="540.00" fill="#808080"/>
<rect x="0.00" y="555.00" width="1836.00" height="2.00" fill="#000"/>
<rect x="1835.00" y="0.00" width="1.00" height="783.00" fill="#000"/>
<rect x="0.00" y="782.00" width="1836.00" height="1.00" fill="#000"/>
<rect x="1836.00" y="45.00" width="2.40" height="1.00" fill="#000"/>
<text x="1840.6" y="50.9" font-size="13.8" fill="#2b2b2b" textLength="51.5" lengthAdjust="spacingAndGlyphs">19700.0</text>
<rect x="1836.00" y="104.00" width="2.40" height="1.00" fill="#000"/>
<text x="1840.6" y="109.8" font-size="13.8" fill="#2b2b2b" textLength="51.5" lengthAdjust="spacingAndGlyphs">19680.0</text>
<rect x="1836.00" y="163.00" width="2.40" height="1.00" fill="#000"/>
<text x="1840.6" y="168.7" font-size="13.8" fill="#2b2b2b" textLength="51.5" lengthAdjust="spacingAndGlyphs">19660.0</text>
<rect x="1836.00" y="222.00" width="2.40" height="1.00" fill="#000"/>
<text x="1840.6" y="227.6" font-size="13.8" fill="#2b2b2b" textLength="51.5" lengthAdjust="spacingAndGlyphs">19640.0</text>
<rect x="1836.00" y="281.00" width="2.40" height="1.00" fill="#000"/>
<text x="1840.6" y="286.5" font-size="13.8" fill="#2b2b2b" textLength="51.5" lengthAdjust="spacingAndGlyphs">19620.0</text>
<rect x="1836.00" y="340.00" width="2.40" height="1.00" fill="#000"/>
<text x="1840.6" y="345.4" font-size="13.8" fill="#2b2b2b" textLength="51.5" lengthAdjust="spacingAndGlyphs">19600.0</text>
<rect x="1836.00" y="398.00" width="2.40" height="1.00" fill="#000"/>
<text x="1840.6" y="404.3" font-size="13.8" fill="#2b2b2b" textLength="51.5" lengthAdjust="spacingAndGlyphs">19580.0</text>
<rect x="1836.00" y="457.00" width="2.40" height="1.00" fill="#000"/>
<text x="1840.6" y="463.2" font-size="13.8" fill="#2b2b2b" textLength="51.5" lengthAdjust="spacingAndGlyphs">19560.0</text>
<rect x="1836.00" y="516.00" width="2.40" height="1.00" fill="#000"/>
<text x="1840.6" y="522.1" font-size="13.8" fill="#2b2b2b" textLength="51.5" lengthAdjust="spacingAndGlyphs">19540.0</text>
<rect x="1836.00" y="587.50" width="2.40" height="1.00" fill="#000"/>
<text x="1841.0" y="592.6" font-size="13.8" fill="#2b2b2b" textLength="7.5" lengthAdjust="spacingAndGlyphs">0</text>
<rect x="1836.00" y="626.50" width="2.40" height="1.00" fill="#000"/>
<text x="1844.3" y="631.6" font-size="13.8" fill="#2b2b2b" textLength="35.5" lengthAdjust="spacingAndGlyphs">-2000</text>
<rect x="1836.00" y="665.50" width="2.40" height="1.00" fill="#000"/>
<text x="1844.3" y="670.6" font-size="13.8" fill="#2b2b2b" textLength="35.5" lengthAdjust="spacingAndGlyphs">-4000</text>
<rect x="1836.00" y="704.50" width="2.40" height="1.00" fill="#000"/>
<text x="1844.3" y="709.6" font-size="13.8" fill="#2b2b2b" textLength="35.5" lengthAdjust="spacingAndGlyphs">-6000</text>
<rect x="1836.00" y="743.50" width="2.40" height="1.00" fill="#000"/>
<text x="1844.3" y="748.6" font-size="13.8" fill="#2b2b2b" textLength="35.5" lengthAdjust="spacingAndGlyphs">-8000</text>
<rect x="1839.00" y="410.00" width="51.00" height="19.00" fill="#000"/>
<rect x="65.00" y="783.00" width="1.00" height="3.00" fill="#000"/>
<text x="48.0" y="801.0" font-size="13.8" fill="#2b2b2b" textLength="35.0" lengthAdjust="spacingAndGlyphs">23:05</text>
<rect x="119.00" y="783.00" width="1.00" height="3.00" fill="#000"/>
<text x="102.0" y="801.0" font-size="13.8" fill="#2b2b2b" textLength="35.0" lengthAdjust="spacingAndGlyphs">23:35</text>
<rect x="209.00" y="783.00" width="1.00" height="3.00" fill="#000"/>
<text x="196.2" y="801.0" font-size="13.8" fill="#2b2b2b" textLength="26.7" lengthAdjust="spacingAndGlyphs">0:25</text>
<rect x="254.00" y="783.00" width="1.00" height="3.00" fill="#000"/>
<text x="241.2" y="801.0" font-size="13.8" fill="#2b2b2b" textLength="26.7" lengthAdjust="spacingAndGlyphs">0:50</text>
<rect x="299.00" y="783.00" width="1.00" height="3.00" fill="#000"/>
<text x="286.1" y="801.0" font-size="13.8" fill="#2b2b2b" textLength="26.7" lengthAdjust="spacingAndGlyphs">1:15</text>
<rect x="344.00" y="783.00" width="1.00" height="3.00" fill="#000"/>
<text x="331.1" y="801.0" font-size="13.8" fill="#2b2b2b" textLength="26.7" lengthAdjust="spacingAndGlyphs">1:40</text>
<rect x="389.00" y="783.00" width="1.00" height="3.00" fill="#000"/>
<text x="376.1" y="801.0" font-size="13.8" fill="#2b2b2b" textLength="26.7" lengthAdjust="spacingAndGlyphs">2:05</text>
<rect x="434.00" y="783.00" width="1.00" height="3.00" fill="#000"/>
<text x="421.1" y="801.0" font-size="13.8" fill="#2b2b2b" textLength="26.7" lengthAdjust="spacingAndGlyphs">2:30</text>
<rect x="479.00" y="783.00" width="1.00" height="3.00" fill="#000"/>
<text x="466.1" y="801.0" font-size="13.8" fill="#2b2b2b" textLength="26.7" lengthAdjust="spacingAndGlyphs">2:55</text>
<rect x="524.00" y="783.00" width="1.00" height="3.00" fill="#000"/>
<text x="511.1" y="801.0" font-size="13.8" fill="#2b2b2b" textLength="26.7" lengthAdjust="spacingAndGlyphs">3:20</text>
<rect x="569.00" y="783.00" width="1.00" height="3.00" fill="#000"/>
<text x="556.1" y="801.0" font-size="13.8" fill="#2b2b2b" textLength="26.7" lengthAdjust="spacingAndGlyphs">3:45</text>
<rect x="614.00" y="783.00" width="1.00" height="3.00" fill="#000"/>
<text x="601.1" y="801.0" font-size="13.8" fill="#2b2b2b" textLength="26.7" lengthAdjust="spacingAndGlyphs">4:10</text>
<rect x="659.00" y="783.00" width="1.00" height="3.00" fill="#000"/>
<text x="646.1" y="801.0" font-size="13.8" fill="#2b2b2b" textLength="26.7" lengthAdjust="spacingAndGlyphs">4:35</text>
<rect x="704.00" y="783.00" width="1.00" height="3.00" fill="#000"/>
<text x="691.1" y="801.0" font-size="13.8" fill="#2b2b2b" textLength="26.7" lengthAdjust="spacingAndGlyphs">5:00</text>
<rect x="749.00" y="783.00" width="1.00" height="3.00" fill="#000"/>
<text x="736.1" y="801.0" font-size="13.8" fill="#2b2b2b" textLength="26.7" lengthAdjust="spacingAndGlyphs">5:25</text>
<rect x="794.00" y="783.00" width="1.00" height="3.00" fill="#000"/>
<text x="781.1" y="801.0" font-size="13.8" fill="#2b2b2b" textLength="26.7" lengthAdjust="spacingAndGlyphs">5:50</text>
<rect x="839.00" y="783.00" width="1.00" height="3.00" fill="#000"/>
<text x="826.1" y="801.0" font-size="13.8" fill="#2b2b2b" textLength="26.7" lengthAdjust="spacingAndGlyphs">6:15</text>
<rect x="884.00" y="783.00" width="1.00" height="3.00" fill="#000"/>
<text x="871.1" y="801.0" font-size="13.8" fill="#2b2b2b" textLength="26.7" lengthAdjust="spacingAndGlyphs">6:40</text>
<rect x="929.00" y="783.00" width="1.00" height="3.00" fill="#000"/>
<text x="916.1" y="801.0" font-size="13.8" fill="#2b2b2b" textLength="26.7" lengthAdjust="spacingAndGlyphs">7:05</text>
<rect x="974.00" y="783.00" width="1.00" height="3.00" fill="#000"/>
<text x="961.1" y="801.0" font-size="13.8" fill="#2b2b2b" textLength="26.7" lengthAdjust="spacingAndGlyphs">7:30</text>
<rect x="1019.00" y="783.00" width="1.00" height="3.00" fill="#000"/>
<text x="1006.1" y="801.0" font-size="13.8" fill="#2b2b2b" textLength="26.7" lengthAdjust="spacingAndGlyphs">7:55</text>
<rect x="1064.00" y="783.00" width="1.00" height="3.00" fill="#000"/>
<text x="1051.2" y="801.0" font-size="13.8" fill="#2b2b2b" textLength="26.7" lengthAdjust="spacingAndGlyphs">8:20</text>
<rect x="1109.00" y="783.00" width="1.00" height="3.00" fill="#000"/>
<text x="1096.2" y="801.0" font-size="13.8" fill="#2b2b2b" textLength="26.7" lengthAdjust="spacingAndGlyphs">8:45</text>
<rect x="1154.00" y="783.00" width="1.00" height="3.00" fill="#000"/>
<text x="1141.2" y="801.0" font-size="13.8" fill="#2b2b2b" textLength="26.7" lengthAdjust="spacingAndGlyphs">9:10</text>
<rect x="1199.00" y="783.00" width="1.00" height="3.00" fill="#000"/>
<text x="1186.2" y="801.0" font-size="13.8" fill="#2b2b2b" textLength="26.7" lengthAdjust="spacingAndGlyphs">9:35</text>
<rect x="1244.00" y="783.00" width="1.00" height="3.00" fill="#000"/>
<text x="1227.0" y="801.0" font-size="13.8" fill="#2b2b2b" textLength="35.0" lengthAdjust="spacingAndGlyphs">10:00</text>
<rect x="1298.00" y="783.00" width="1.00" height="3.00" fill="#000"/>
<text x="1281.0" y="801.0" font-size="13.8" fill="#2b2b2b" textLength="35.0" lengthAdjust="spacingAndGlyphs">10:30</text>
<rect x="1352.00" y="783.00" width="1.00" height="3.00" fill="#000"/>
<text x="1335.0" y="801.0" font-size="13.8" fill="#2b2b2b" textLength="35.0" lengthAdjust="spacingAndGlyphs">11:00</text>
<rect x="1406.00" y="783.00" width="1.00" height="3.00" fill="#000"/>
<text x="1389.0" y="801.0" font-size="13.8" fill="#2b2b2b" textLength="35.0" lengthAdjust="spacingAndGlyphs">11:30</text>
<rect x="1460.00" y="783.00" width="1.00" height="3.00" fill="#000"/>
<text x="1443.0" y="801.0" font-size="13.8" fill="#2b2b2b" textLength="35.0" lengthAdjust="spacingAndGlyphs">12:00</text>
<rect x="1514.00" y="783.00" width="1.00" height="3.00" fill="#000"/>
<text x="1497.0" y="801.0" font-size="13.8" fill="#2b2b2b" textLength="35.0" lengthAdjust="spacingAndGlyphs">12:30</text>
<rect x="1568.00" y="783.00" width="1.00" height="3.00" fill="#000"/>
<text x="1551.0" y="801.0" font-size="13.8" fill="#2b2b2b" textLength="35.0" lengthAdjust="spacingAndGlyphs">13:00</text>
<rect x="1622.00" y="783.00" width="1.00" height="3.00" fill="#000"/>
<text x="1605.0" y="801.0" font-size="13.8" fill="#2b2b2b" textLength="35.0" lengthAdjust="spacingAndGlyphs">13:30</text>
<rect x="1676.00" y="783.00" width="1.00" height="3.00" fill="#000"/>
<text x="1659.0" y="801.0" font-size="13.8" fill="#2b2b2b" textLength="35.0" lengthAdjust="spacingAndGlyphs">14:00</text>
<rect x="1730.00" y="783.00" width="1.00" height="3.00" fill="#000"/>
<text x="1713.0" y="801.0" font-size="13.8" fill="#2b2b2b" textLength="35.0" lengthAdjust="spacingAndGlyphs">14:30</text>
<rect x="1784.00" y="783.00" width="1.00" height="3.00" fill="#000"/>
<text x="1767.0" y="801.0" font-size="13.8" fill="#2b2b2b" textLength="35.0" lengthAdjust="spacingAndGlyphs">15:00</text>
<rect x="2.00" y="783.00" width="1.00" height="3.00" fill="#000"/>
<rect x="164.00" y="783.00" width="1.00" height="3.00" fill="#000"/>
<rect x="0.00" y="786.00" width="36.00" height="19.00" fill="#000"/>
<text x="-6.5" y="801.0" font-size="13.5" fill="#fff" textLength="41.0" lengthAdjust="spacingAndGlyphs">4-8-27</text>
<rect x="149.00" y="786.00" width="31.00" height="19.00" fill="#000"/>
<text x="150.5" y="801.0" font-size="13.5" fill="#fff" textLength="28.0" lengthAdjust="spacingAndGlyphs">8-28</text>
<rect x="1880.00" y="786.00" width="10.00" height="19.00" fill="#f00505"/>
<text x="1885.2" y="801.0" font-size="13.8" fill="#8a0000" textLength="28.0" lengthAdjust="spacingAndGlyphs">8-28</text>
<text x="0.0" y="10.4" font-size="13" fill="#2b2b2b" textLength="155.0" lengthAdjust="spacingAndGlyphs">MNQU24_FUT_CME[M]</text>
<text x="164.6" y="10.4" font-size="13" fill="#2b2b2b" textLength="36.4" lengthAdjust="spacingAndGlyphs">5 Min</text>
<text x="210.0" y="10.4" font-size="13" fill="#2b2b2b" textLength="14.8" lengthAdjust="spacingAndGlyphs">#1</text>
<rect x="229.00" y="0.00" width="79.00" height="14.50" fill="#000"/>
<text x="231.0" y="10.4" font-size="13" fill="#fff" textLength="75.0" lengthAdjust="spacingAndGlyphs">C: 19573.00</text>
<text x="312.8" y="10.4" font-size="13" fill="#2b2b2b" textLength="53.2" lengthAdjust="spacingAndGlyphs">T: 17613</text>
<rect x="370.00" y="0.00" width="62.60" height="14.50" fill="#0fb414"/>
<text x="371.5" y="10.4" font-size="13" fill="#b4f8b4" textLength="59.5" lengthAdjust="spacingAndGlyphs">Chg: 4.50</text>
<rect x="435.00" y="0.00" width="93.70" height="14.50" fill="#e60505"/>
<text x="436.5" y="10.4" font-size="13" fill="#ffc0c0" textLength="90.5" lengthAdjust="spacingAndGlyphs">DChg: -223.75</text>
<text x="533.0" y="10.4" font-size="13" fill="#2b2b2b" textLength="132.8" lengthAdjust="spacingAndGlyphs">2024-08-28 15:20:00</text>
<text x="671.0" y="10.4" font-size="13" fill="#2b2b2b" textLength="76.0" lengthAdjust="spacingAndGlyphs">H: 19578.50</text>
<text x="753.0" y="10.4" font-size="13" fill="#2b2b2b" textLength="73.3" lengthAdjust="spacingAndGlyphs">L: 19545.00</text>
<text x="831.4" y="10.4" font-size="13" fill="#2b2b2b" textLength="77.3" lengthAdjust="spacingAndGlyphs">O: 19568.00</text>
<text x="913.0" y="10.4" font-size="13" fill="#2b2b2b" textLength="56.0" lengthAdjust="spacingAndGlyphs">V: 19346</text>
<text x="975.3" y="10.4" font-size="13" fill="#2b2b2b" textLength="74.3" lengthAdjust="spacingAndGlyphs">B: 19191.75</text>
<text x="1055.3" y="10.4" font-size="13" fill="#2b2b2b" textLength="76.2" lengthAdjust="spacingAndGlyphs">A: 19192.50</text>
<text x="1137.0" y="10.4" font-size="13" fill="#2b2b2b" textLength="21.5" lengthAdjust="spacingAndGlyphs">3x3</text>
<text x="1163.4" y="10.4" font-size="13" fill="#2b2b2b" textLength="7.4" lengthAdjust="spacingAndGlyphs">0</text>
<text x="1176.0" y="10.4" font-size="13" fill="#2b2b2b" textLength="55.5" lengthAdjust="spacingAndGlyphs">BV: 9347</text>
<text x="1237.5" y="10.4" font-size="13" fill="#2b2b2b" textLength="56.5" lengthAdjust="spacingAndGlyphs">AV: 9999</text>
<text x="1300.0" y="10.4" font-size="13" fill="#2b2b2b" textLength="65.5" lengthAdjust="spacingAndGlyphs">DV: 61646</text>
<text x="1370.8" y="10.4" font-size="13" fill="#2b2b2b" textLength="116.2" lengthAdjust="spacingAndGlyphs">Current Price Line</text>
<text x="1496.5" y="10.4" font-size="13" fill="#a9a2dc" textLength="59.3" lengthAdjust="spacingAndGlyphs">CPL: 0.00</text>
<text x="1569.0" y="10.4" font-size="13" fill="#2b2b2b" textLength="172.8" lengthAdjust="spacingAndGlyphs">(0, Last, Yes, No, No, 10, 0)</text>
<text x="1751.0" y="10.4" font-size="13" fill="#2b2b2b" textLength="79.3" lengthAdjust="spacingAndGlyphs">VbP - 1 Days</text>
<clipPath id="cz"><rect x="1700" y="15" width="100" height="60"/></clipPath><g clip-path="url(#cz)">
<rect x="1723.00" y="15.00" width="15.00" height="18.00" fill="#000"/>
<rect x="1742.00" y="15.00" width="15.00" height="18.00" fill="#000"/>
<rect x="1723.00" y="33.00" width="21.00" height="29.00" fill="#000"/>
<text x="1724.3" y="27" font-family="Liberation Serif" font-size="21" fill="#fff" textLength="12.5" lengthAdjust="spacingAndGlyphs">0</text>
<text x="1743" y="27" font-family="Liberation Serif" font-size="21" fill="#fff" textLength="12.5" lengthAdjust="spacingAndGlyphs">0</text>
<text x="1724.3" y="55.8" font-family="Liberation Serif" font-size="21" fill="#fff" textLength="12.5" lengthAdjust="spacingAndGlyphs">0</text>
</g>
<text x="0.0" y="571.0" font-size="13" fill="#2b2b2b" textLength="207.0" lengthAdjust="spacingAndGlyphs">Cumulative Delta Bars - Volume</text>
<text x="216.5" y="571.0" font-size="13" fill="#55d055" textLength="63.5" lengthAdjust="spacingAndGlyphs">CD: -6594</text>
<text x="288.0" y="571.0" font-size="13" fill="#2c7a36" textLength="74.5" lengthAdjust="spacingAndGlyphs">High: -5864</text>
<text x="371.0" y="571.0" font-size="13" fill="#c23b3b" textLength="70.0" lengthAdjust="spacingAndGlyphs">Low: -7460</text>
<text x="450.0" y="571.0" font-size="13" fill="#6e1a1a" textLength="79.0" lengthAdjust="spacingAndGlyphs">Close: -5942</text>
<text x="543.0" y="571.0" font-size="13" fill="#2b2b2b" textLength="106.5" lengthAdjust="spacingAndGlyphs">(No, 10, Yes, No)</text>
<text x="1068" y="465.2" font-size="26.5" fill="#e0202a" textLength="360" lengthAdjust="spacingAndGlyphs">Border between sub windows</text>
<g stroke="#e61e28" stroke-width="4" stroke-linecap="round" fill="none"><path d="M1168.5 480.5 L1012.5 552"/><path d="M1019 526 L1012.5 552 L1058.5 545"/></g>
</svg>
</body></html>
